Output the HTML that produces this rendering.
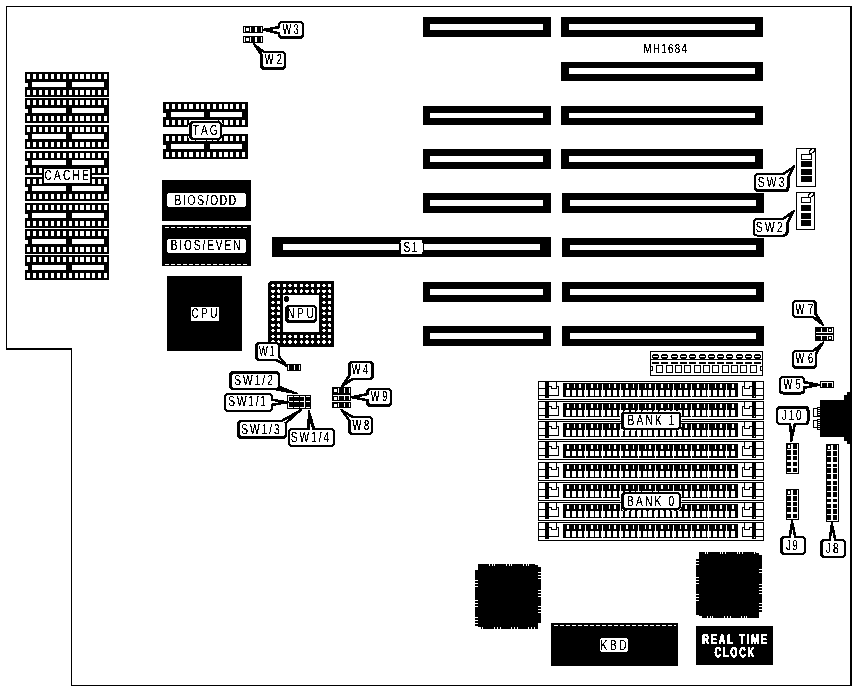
<!DOCTYPE html>
<html lang="en">
<head>
<meta charset="utf-8">
<title>MH1684 board layout</title>
<style>
html,body{margin:0;padding:0;background:#fff;}
body{width:856px;height:691px;overflow:hidden;}
svg{display:block;}
svg rect, svg path, svg circle, svg ellipse{shape-rendering:crispEdges;}
svg text{font-family:"Liberation Sans",sans-serif;text-rendering:geometricPrecision;font-kerning:none;white-space:pre;}
</style>
</head>
<body>
<svg width="856" height="691" viewBox="0 0 856 691">
<defs><filter id="th" x="-5%" y="-30%" width="110%" height="160%" color-interpolation-filters="sRGB"><feComponentTransfer><feFuncA type="discrete" tableValues="0 0 0 0 0 0 0 0 1 1 1 1 1 1 1 1 1 1 1 1"/></feComponentTransfer></filter><filter id="th2" x="-5%" y="-30%" width="110%" height="160%" color-interpolation-filters="sRGB"><feComponentTransfer><feFuncA type="discrete" tableValues="0 0 0 0 0 0 0 1 1 1 1 1 1 1 1 1 1 1 1 1"/></feComponentTransfer></filter></defs>
<rect x="0" y="0" width="856" height="691" fill="#fff"/>
<rect x="6" y="6" width="846" height="1" fill="#000"/>
<rect x="6" y="6" width="1" height="344" fill="#000"/>
<rect x="6" y="348" width="66" height="2" fill="#000"/>
<rect x="71" y="348" width="1" height="338" fill="#000"/>
<rect x="71" y="685" width="781" height="1" fill="#000"/>
<rect x="850" y="6" width="2" height="680" fill="#000"/>
<rect x="25" y="72" width="84" height="25" fill="#000"/>
<rect x="27" y="74" width="3" height="5" fill="#fff"/>
<rect x="27" y="90" width="3" height="5" fill="#fff"/>
<rect x="33" y="74" width="3" height="5" fill="#fff"/>
<rect x="33" y="90" width="3" height="5" fill="#fff"/>
<rect x="39" y="74" width="3" height="5" fill="#fff"/>
<rect x="39" y="90" width="3" height="5" fill="#fff"/>
<rect x="45" y="74" width="3" height="5" fill="#fff"/>
<rect x="45" y="90" width="3" height="5" fill="#fff"/>
<rect x="51" y="74" width="3" height="5" fill="#fff"/>
<rect x="51" y="90" width="3" height="5" fill="#fff"/>
<rect x="57" y="74" width="3" height="5" fill="#fff"/>
<rect x="57" y="90" width="3" height="5" fill="#fff"/>
<rect x="63" y="74" width="3" height="5" fill="#fff"/>
<rect x="63" y="90" width="3" height="5" fill="#fff"/>
<rect x="69" y="74" width="3" height="5" fill="#fff"/>
<rect x="69" y="90" width="3" height="5" fill="#fff"/>
<rect x="75" y="74" width="3" height="5" fill="#fff"/>
<rect x="75" y="90" width="3" height="5" fill="#fff"/>
<rect x="80" y="74" width="4" height="5" fill="#fff"/>
<rect x="80" y="90" width="4" height="5" fill="#fff"/>
<rect x="86" y="74" width="4" height="5" fill="#fff"/>
<rect x="86" y="90" width="4" height="5" fill="#fff"/>
<rect x="92" y="74" width="3" height="5" fill="#fff"/>
<rect x="92" y="90" width="3" height="5" fill="#fff"/>
<rect x="98" y="74" width="3" height="5" fill="#fff"/>
<rect x="98" y="90" width="3" height="5" fill="#fff"/>
<rect x="104" y="74" width="3" height="5" fill="#fff"/>
<rect x="104" y="90" width="3" height="5" fill="#fff"/>
<rect x="32" y="82" width="34" height="5" fill="#fff"/>
<rect x="72" y="82" width="32" height="5" fill="#fff"/>
<path d="M25,83h2l1,1v2l-1,1h-2z" fill="#fff"/>
<rect x="25" y="98" width="84" height="25" fill="#000"/>
<rect x="27" y="100" width="3" height="5" fill="#fff"/>
<rect x="27" y="116" width="3" height="5" fill="#fff"/>
<rect x="33" y="100" width="3" height="5" fill="#fff"/>
<rect x="33" y="116" width="3" height="5" fill="#fff"/>
<rect x="39" y="100" width="3" height="5" fill="#fff"/>
<rect x="39" y="116" width="3" height="5" fill="#fff"/>
<rect x="45" y="100" width="3" height="5" fill="#fff"/>
<rect x="45" y="116" width="3" height="5" fill="#fff"/>
<rect x="51" y="100" width="3" height="5" fill="#fff"/>
<rect x="51" y="116" width="3" height="5" fill="#fff"/>
<rect x="57" y="100" width="3" height="5" fill="#fff"/>
<rect x="57" y="116" width="3" height="5" fill="#fff"/>
<rect x="63" y="100" width="3" height="5" fill="#fff"/>
<rect x="63" y="116" width="3" height="5" fill="#fff"/>
<rect x="69" y="100" width="3" height="5" fill="#fff"/>
<rect x="69" y="116" width="3" height="5" fill="#fff"/>
<rect x="75" y="100" width="3" height="5" fill="#fff"/>
<rect x="75" y="116" width="3" height="5" fill="#fff"/>
<rect x="80" y="100" width="4" height="5" fill="#fff"/>
<rect x="80" y="116" width="4" height="5" fill="#fff"/>
<rect x="86" y="100" width="4" height="5" fill="#fff"/>
<rect x="86" y="116" width="4" height="5" fill="#fff"/>
<rect x="92" y="100" width="3" height="5" fill="#fff"/>
<rect x="92" y="116" width="3" height="5" fill="#fff"/>
<rect x="98" y="100" width="3" height="5" fill="#fff"/>
<rect x="98" y="116" width="3" height="5" fill="#fff"/>
<rect x="104" y="100" width="3" height="5" fill="#fff"/>
<rect x="104" y="116" width="3" height="5" fill="#fff"/>
<rect x="32" y="108" width="34" height="5" fill="#fff"/>
<rect x="72" y="108" width="32" height="5" fill="#fff"/>
<path d="M25,109h2l1,1v2l-1,1h-2z" fill="#fff"/>
<rect x="25" y="125" width="84" height="24" fill="#000"/>
<rect x="27" y="127" width="3" height="5" fill="#fff"/>
<rect x="27" y="142" width="3" height="5" fill="#fff"/>
<rect x="33" y="127" width="3" height="5" fill="#fff"/>
<rect x="33" y="142" width="3" height="5" fill="#fff"/>
<rect x="39" y="127" width="3" height="5" fill="#fff"/>
<rect x="39" y="142" width="3" height="5" fill="#fff"/>
<rect x="45" y="127" width="3" height="5" fill="#fff"/>
<rect x="45" y="142" width="3" height="5" fill="#fff"/>
<rect x="51" y="127" width="3" height="5" fill="#fff"/>
<rect x="51" y="142" width="3" height="5" fill="#fff"/>
<rect x="57" y="127" width="3" height="5" fill="#fff"/>
<rect x="57" y="142" width="3" height="5" fill="#fff"/>
<rect x="63" y="127" width="3" height="5" fill="#fff"/>
<rect x="63" y="142" width="3" height="5" fill="#fff"/>
<rect x="69" y="127" width="3" height="5" fill="#fff"/>
<rect x="69" y="142" width="3" height="5" fill="#fff"/>
<rect x="75" y="127" width="3" height="5" fill="#fff"/>
<rect x="75" y="142" width="3" height="5" fill="#fff"/>
<rect x="80" y="127" width="4" height="5" fill="#fff"/>
<rect x="80" y="142" width="4" height="5" fill="#fff"/>
<rect x="86" y="127" width="4" height="5" fill="#fff"/>
<rect x="86" y="142" width="4" height="5" fill="#fff"/>
<rect x="92" y="127" width="3" height="5" fill="#fff"/>
<rect x="92" y="142" width="3" height="5" fill="#fff"/>
<rect x="98" y="127" width="3" height="5" fill="#fff"/>
<rect x="98" y="142" width="3" height="5" fill="#fff"/>
<rect x="104" y="127" width="3" height="5" fill="#fff"/>
<rect x="104" y="142" width="3" height="5" fill="#fff"/>
<rect x="32" y="134" width="34" height="5" fill="#fff"/>
<rect x="72" y="134" width="32" height="5" fill="#fff"/>
<path d="M25,135h2l1,1v2l-1,1h-2z" fill="#fff"/>
<rect x="25" y="151" width="84" height="24" fill="#000"/>
<rect x="27" y="153" width="3" height="5" fill="#fff"/>
<rect x="27" y="168" width="3" height="5" fill="#fff"/>
<rect x="33" y="153" width="3" height="5" fill="#fff"/>
<rect x="33" y="168" width="3" height="5" fill="#fff"/>
<rect x="39" y="153" width="3" height="5" fill="#fff"/>
<rect x="39" y="168" width="3" height="5" fill="#fff"/>
<rect x="45" y="153" width="3" height="5" fill="#fff"/>
<rect x="45" y="168" width="3" height="5" fill="#fff"/>
<rect x="51" y="153" width="3" height="5" fill="#fff"/>
<rect x="51" y="168" width="3" height="5" fill="#fff"/>
<rect x="57" y="153" width="3" height="5" fill="#fff"/>
<rect x="57" y="168" width="3" height="5" fill="#fff"/>
<rect x="63" y="153" width="3" height="5" fill="#fff"/>
<rect x="63" y="168" width="3" height="5" fill="#fff"/>
<rect x="69" y="153" width="3" height="5" fill="#fff"/>
<rect x="69" y="168" width="3" height="5" fill="#fff"/>
<rect x="75" y="153" width="3" height="5" fill="#fff"/>
<rect x="75" y="168" width="3" height="5" fill="#fff"/>
<rect x="80" y="153" width="4" height="5" fill="#fff"/>
<rect x="80" y="168" width="4" height="5" fill="#fff"/>
<rect x="86" y="153" width="4" height="5" fill="#fff"/>
<rect x="86" y="168" width="4" height="5" fill="#fff"/>
<rect x="92" y="153" width="3" height="5" fill="#fff"/>
<rect x="92" y="168" width="3" height="5" fill="#fff"/>
<rect x="98" y="153" width="3" height="5" fill="#fff"/>
<rect x="98" y="168" width="3" height="5" fill="#fff"/>
<rect x="104" y="153" width="3" height="5" fill="#fff"/>
<rect x="104" y="168" width="3" height="5" fill="#fff"/>
<rect x="32" y="160" width="34" height="5" fill="#fff"/>
<rect x="72" y="160" width="32" height="5" fill="#fff"/>
<path d="M25,161h2l1,1v2l-1,1h-2z" fill="#fff"/>
<rect x="25" y="177" width="84" height="24" fill="#000"/>
<rect x="27" y="179" width="3" height="5" fill="#fff"/>
<rect x="27" y="194" width="3" height="5" fill="#fff"/>
<rect x="33" y="179" width="3" height="5" fill="#fff"/>
<rect x="33" y="194" width="3" height="5" fill="#fff"/>
<rect x="39" y="179" width="3" height="5" fill="#fff"/>
<rect x="39" y="194" width="3" height="5" fill="#fff"/>
<rect x="45" y="179" width="3" height="5" fill="#fff"/>
<rect x="45" y="194" width="3" height="5" fill="#fff"/>
<rect x="51" y="179" width="3" height="5" fill="#fff"/>
<rect x="51" y="194" width="3" height="5" fill="#fff"/>
<rect x="57" y="179" width="3" height="5" fill="#fff"/>
<rect x="57" y="194" width="3" height="5" fill="#fff"/>
<rect x="63" y="179" width="3" height="5" fill="#fff"/>
<rect x="63" y="194" width="3" height="5" fill="#fff"/>
<rect x="69" y="179" width="3" height="5" fill="#fff"/>
<rect x="69" y="194" width="3" height="5" fill="#fff"/>
<rect x="75" y="179" width="3" height="5" fill="#fff"/>
<rect x="75" y="194" width="3" height="5" fill="#fff"/>
<rect x="80" y="179" width="4" height="5" fill="#fff"/>
<rect x="80" y="194" width="4" height="5" fill="#fff"/>
<rect x="86" y="179" width="4" height="5" fill="#fff"/>
<rect x="86" y="194" width="4" height="5" fill="#fff"/>
<rect x="92" y="179" width="3" height="5" fill="#fff"/>
<rect x="92" y="194" width="3" height="5" fill="#fff"/>
<rect x="98" y="179" width="3" height="5" fill="#fff"/>
<rect x="98" y="194" width="3" height="5" fill="#fff"/>
<rect x="104" y="179" width="3" height="5" fill="#fff"/>
<rect x="104" y="194" width="3" height="5" fill="#fff"/>
<rect x="32" y="186" width="34" height="5" fill="#fff"/>
<rect x="72" y="186" width="32" height="5" fill="#fff"/>
<path d="M25,187h2l1,1v2l-1,1h-2z" fill="#fff"/>
<rect x="25" y="203" width="84" height="25" fill="#000"/>
<rect x="27" y="205" width="3" height="5" fill="#fff"/>
<rect x="27" y="221" width="3" height="5" fill="#fff"/>
<rect x="33" y="205" width="3" height="5" fill="#fff"/>
<rect x="33" y="221" width="3" height="5" fill="#fff"/>
<rect x="39" y="205" width="3" height="5" fill="#fff"/>
<rect x="39" y="221" width="3" height="5" fill="#fff"/>
<rect x="45" y="205" width="3" height="5" fill="#fff"/>
<rect x="45" y="221" width="3" height="5" fill="#fff"/>
<rect x="51" y="205" width="3" height="5" fill="#fff"/>
<rect x="51" y="221" width="3" height="5" fill="#fff"/>
<rect x="57" y="205" width="3" height="5" fill="#fff"/>
<rect x="57" y="221" width="3" height="5" fill="#fff"/>
<rect x="63" y="205" width="3" height="5" fill="#fff"/>
<rect x="63" y="221" width="3" height="5" fill="#fff"/>
<rect x="69" y="205" width="3" height="5" fill="#fff"/>
<rect x="69" y="221" width="3" height="5" fill="#fff"/>
<rect x="75" y="205" width="3" height="5" fill="#fff"/>
<rect x="75" y="221" width="3" height="5" fill="#fff"/>
<rect x="80" y="205" width="4" height="5" fill="#fff"/>
<rect x="80" y="221" width="4" height="5" fill="#fff"/>
<rect x="86" y="205" width="4" height="5" fill="#fff"/>
<rect x="86" y="221" width="4" height="5" fill="#fff"/>
<rect x="92" y="205" width="3" height="5" fill="#fff"/>
<rect x="92" y="221" width="3" height="5" fill="#fff"/>
<rect x="98" y="205" width="3" height="5" fill="#fff"/>
<rect x="98" y="221" width="3" height="5" fill="#fff"/>
<rect x="104" y="205" width="3" height="5" fill="#fff"/>
<rect x="104" y="221" width="3" height="5" fill="#fff"/>
<rect x="32" y="213" width="34" height="5" fill="#fff"/>
<rect x="72" y="213" width="32" height="5" fill="#fff"/>
<path d="M25,214h2l1,1v2l-1,1h-2z" fill="#fff"/>
<rect x="25" y="229" width="84" height="25" fill="#000"/>
<rect x="27" y="231" width="3" height="5" fill="#fff"/>
<rect x="27" y="247" width="3" height="5" fill="#fff"/>
<rect x="33" y="231" width="3" height="5" fill="#fff"/>
<rect x="33" y="247" width="3" height="5" fill="#fff"/>
<rect x="39" y="231" width="3" height="5" fill="#fff"/>
<rect x="39" y="247" width="3" height="5" fill="#fff"/>
<rect x="45" y="231" width="3" height="5" fill="#fff"/>
<rect x="45" y="247" width="3" height="5" fill="#fff"/>
<rect x="51" y="231" width="3" height="5" fill="#fff"/>
<rect x="51" y="247" width="3" height="5" fill="#fff"/>
<rect x="57" y="231" width="3" height="5" fill="#fff"/>
<rect x="57" y="247" width="3" height="5" fill="#fff"/>
<rect x="63" y="231" width="3" height="5" fill="#fff"/>
<rect x="63" y="247" width="3" height="5" fill="#fff"/>
<rect x="69" y="231" width="3" height="5" fill="#fff"/>
<rect x="69" y="247" width="3" height="5" fill="#fff"/>
<rect x="75" y="231" width="3" height="5" fill="#fff"/>
<rect x="75" y="247" width="3" height="5" fill="#fff"/>
<rect x="80" y="231" width="4" height="5" fill="#fff"/>
<rect x="80" y="247" width="4" height="5" fill="#fff"/>
<rect x="86" y="231" width="4" height="5" fill="#fff"/>
<rect x="86" y="247" width="4" height="5" fill="#fff"/>
<rect x="92" y="231" width="3" height="5" fill="#fff"/>
<rect x="92" y="247" width="3" height="5" fill="#fff"/>
<rect x="98" y="231" width="3" height="5" fill="#fff"/>
<rect x="98" y="247" width="3" height="5" fill="#fff"/>
<rect x="104" y="231" width="3" height="5" fill="#fff"/>
<rect x="104" y="247" width="3" height="5" fill="#fff"/>
<rect x="32" y="239" width="34" height="5" fill="#fff"/>
<rect x="72" y="239" width="32" height="5" fill="#fff"/>
<path d="M25,240h2l1,1v2l-1,1h-2z" fill="#fff"/>
<rect x="25" y="255" width="84" height="25" fill="#000"/>
<rect x="27" y="257" width="3" height="5" fill="#fff"/>
<rect x="27" y="273" width="3" height="5" fill="#fff"/>
<rect x="33" y="257" width="3" height="5" fill="#fff"/>
<rect x="33" y="273" width="3" height="5" fill="#fff"/>
<rect x="39" y="257" width="3" height="5" fill="#fff"/>
<rect x="39" y="273" width="3" height="5" fill="#fff"/>
<rect x="45" y="257" width="3" height="5" fill="#fff"/>
<rect x="45" y="273" width="3" height="5" fill="#fff"/>
<rect x="51" y="257" width="3" height="5" fill="#fff"/>
<rect x="51" y="273" width="3" height="5" fill="#fff"/>
<rect x="57" y="257" width="3" height="5" fill="#fff"/>
<rect x="57" y="273" width="3" height="5" fill="#fff"/>
<rect x="63" y="257" width="3" height="5" fill="#fff"/>
<rect x="63" y="273" width="3" height="5" fill="#fff"/>
<rect x="69" y="257" width="3" height="5" fill="#fff"/>
<rect x="69" y="273" width="3" height="5" fill="#fff"/>
<rect x="75" y="257" width="3" height="5" fill="#fff"/>
<rect x="75" y="273" width="3" height="5" fill="#fff"/>
<rect x="80" y="257" width="4" height="5" fill="#fff"/>
<rect x="80" y="273" width="4" height="5" fill="#fff"/>
<rect x="86" y="257" width="4" height="5" fill="#fff"/>
<rect x="86" y="273" width="4" height="5" fill="#fff"/>
<rect x="92" y="257" width="3" height="5" fill="#fff"/>
<rect x="92" y="273" width="3" height="5" fill="#fff"/>
<rect x="98" y="257" width="3" height="5" fill="#fff"/>
<rect x="98" y="273" width="3" height="5" fill="#fff"/>
<rect x="104" y="257" width="3" height="5" fill="#fff"/>
<rect x="104" y="273" width="3" height="5" fill="#fff"/>
<rect x="32" y="265" width="34" height="5" fill="#fff"/>
<rect x="72" y="265" width="32" height="5" fill="#fff"/>
<path d="M25,266h2l1,1v2l-1,1h-2z" fill="#fff"/>
<rect x="163" y="102" width="85" height="25" fill="#000"/>
<rect x="166" y="104" width="3" height="5" fill="#fff"/>
<rect x="166" y="120" width="3" height="5" fill="#fff"/>
<rect x="172" y="104" width="3" height="5" fill="#fff"/>
<rect x="172" y="120" width="3" height="5" fill="#fff"/>
<rect x="178" y="104" width="3" height="5" fill="#fff"/>
<rect x="178" y="120" width="3" height="5" fill="#fff"/>
<rect x="184" y="104" width="3" height="5" fill="#fff"/>
<rect x="184" y="120" width="3" height="5" fill="#fff"/>
<rect x="189" y="104" width="4" height="5" fill="#fff"/>
<rect x="189" y="120" width="4" height="5" fill="#fff"/>
<rect x="196" y="104" width="3" height="5" fill="#fff"/>
<rect x="196" y="120" width="3" height="5" fill="#fff"/>
<rect x="201" y="104" width="3" height="5" fill="#fff"/>
<rect x="201" y="120" width="3" height="5" fill="#fff"/>
<rect x="207" y="104" width="3" height="5" fill="#fff"/>
<rect x="207" y="120" width="3" height="5" fill="#fff"/>
<rect x="213" y="104" width="3" height="5" fill="#fff"/>
<rect x="213" y="120" width="3" height="5" fill="#fff"/>
<rect x="219" y="104" width="3" height="5" fill="#fff"/>
<rect x="219" y="120" width="3" height="5" fill="#fff"/>
<rect x="224" y="104" width="4" height="5" fill="#fff"/>
<rect x="224" y="120" width="4" height="5" fill="#fff"/>
<rect x="230" y="104" width="3" height="5" fill="#fff"/>
<rect x="230" y="120" width="3" height="5" fill="#fff"/>
<rect x="236" y="104" width="3" height="5" fill="#fff"/>
<rect x="236" y="120" width="3" height="5" fill="#fff"/>
<rect x="242" y="104" width="3" height="5" fill="#fff"/>
<rect x="242" y="120" width="3" height="5" fill="#fff"/>
<rect x="171" y="112" width="33" height="5" fill="#fff"/>
<rect x="210" y="112" width="32" height="5" fill="#fff"/>
<path d="M163,113h2l1,1v2l-1,1h-2z" fill="#fff"/>
<rect x="163" y="134" width="85" height="25" fill="#000"/>
<rect x="166" y="136" width="3" height="5" fill="#fff"/>
<rect x="166" y="152" width="3" height="5" fill="#fff"/>
<rect x="172" y="136" width="3" height="5" fill="#fff"/>
<rect x="172" y="152" width="3" height="5" fill="#fff"/>
<rect x="178" y="136" width="3" height="5" fill="#fff"/>
<rect x="178" y="152" width="3" height="5" fill="#fff"/>
<rect x="184" y="136" width="3" height="5" fill="#fff"/>
<rect x="184" y="152" width="3" height="5" fill="#fff"/>
<rect x="189" y="136" width="4" height="5" fill="#fff"/>
<rect x="189" y="152" width="4" height="5" fill="#fff"/>
<rect x="196" y="136" width="3" height="5" fill="#fff"/>
<rect x="196" y="152" width="3" height="5" fill="#fff"/>
<rect x="201" y="136" width="3" height="5" fill="#fff"/>
<rect x="201" y="152" width="3" height="5" fill="#fff"/>
<rect x="207" y="136" width="3" height="5" fill="#fff"/>
<rect x="207" y="152" width="3" height="5" fill="#fff"/>
<rect x="213" y="136" width="3" height="5" fill="#fff"/>
<rect x="213" y="152" width="3" height="5" fill="#fff"/>
<rect x="219" y="136" width="3" height="5" fill="#fff"/>
<rect x="219" y="152" width="3" height="5" fill="#fff"/>
<rect x="224" y="136" width="4" height="5" fill="#fff"/>
<rect x="224" y="152" width="4" height="5" fill="#fff"/>
<rect x="230" y="136" width="3" height="5" fill="#fff"/>
<rect x="230" y="152" width="3" height="5" fill="#fff"/>
<rect x="236" y="136" width="3" height="5" fill="#fff"/>
<rect x="236" y="152" width="3" height="5" fill="#fff"/>
<rect x="242" y="136" width="3" height="5" fill="#fff"/>
<rect x="242" y="152" width="3" height="5" fill="#fff"/>
<rect x="171" y="144" width="33" height="5" fill="#fff"/>
<rect x="210" y="144" width="32" height="5" fill="#fff"/>
<path d="M163,145h2l1,1v2l-1,1h-2z" fill="#fff"/>
<rect x="42" y="167" width="50" height="18" fill="#000"/>
<rect x="44" y="169" width="46" height="14" fill="#fff"/>
<text filter="url(#th)" transform="translate(44.58,180) scale(0.7,1)" font-size="14.5" letter-spacing="3.11" fill="#000">CACHE</text>
<path d="M193,120.5H218A4.5,4.5 0 0 1 222.5,125V136A4.5,4.5 0 0 1 218,140.5H193A4.5,4.5 0 0 1 188.5,136V125A4.5,4.5 0 0 1 193,120.5Z" fill="none" stroke="#fff" stroke-width="1" stroke-dasharray="3 2.6"/>
<path d="M193,121H218A4,4 0 0 1 222,125V136A4,4 0 0 1 218,140H193A4,4 0 0 1 189,136V125A4,4 0 0 1 193,121Z" fill="#000"/>
<path d="M194.3,123H217.7A2.3,2.3 0 0 1 220,125.3V135.7A2.3,2.3 0 0 1 217.7,138H194.3A2.3,2.3 0 0 1 192,135.7V125.3A2.3,2.3 0 0 1 194.3,123Z" fill="#fff"/>
<text filter="url(#th)" transform="translate(192.77,135) scale(0.7,1)" font-size="14.5" letter-spacing="2.80" fill="#000">TAG</text>
<rect x="162" y="180" width="89" height="41" fill="#000"/>
<path d="M170,193H243A3,3 0 0 1 246,196V204A3,3 0 0 1 243,207H170A3,3 0 0 1 167,204V196A3,3 0 0 1 170,193Z" fill="#fff"/>
<text filter="url(#th)" transform="translate(174.57,205) scale(0.7,1)" font-size="14.5" letter-spacing="2.45" fill="#000">BIOS/ODD</text>
<rect x="162" y="225" width="89" height="41" fill="#000"/>
<path d="M165,227.5H249M165,264.5H249" stroke="#fff" stroke-width="1" stroke-dasharray="3.5 2.5" fill="none"/>
<path d="M170,239H243A3,3 0 0 1 246,242V250A3,3 0 0 1 243,253H170A3,3 0 0 1 167,250V242A3,3 0 0 1 170,239Z" fill="#fff"/>
<text filter="url(#th)" transform="translate(170.67,250) scale(0.7,1)" font-size="14.5" letter-spacing="2.70" fill="#000">BIOS/EVEN</text>
<rect x="167" y="276" width="75" height="75" fill="#000"/>
<rect x="191" y="307" width="28" height="14" fill="#fff"/>
<text filter="url(#th)" transform="translate(191.48,318) scale(0.7,1)" font-size="14.5" letter-spacing="3.19" fill="#000">CPU</text>
<path d="M270,281H334V347H268V283Z" fill="#000"/>
<circle cx="273.0" cy="285.4" r="1.75" fill="#fff"/>
<circle cx="273.0" cy="291.1" r="1.75" fill="#fff"/>
<circle cx="273.0" cy="296.7" r="1.75" fill="#fff"/>
<circle cx="273.0" cy="302.4" r="1.75" fill="#fff"/>
<circle cx="273.0" cy="308.1" r="1.75" fill="#fff"/>
<circle cx="273.0" cy="313.7" r="1.75" fill="#fff"/>
<circle cx="273.0" cy="319.4" r="1.75" fill="#fff"/>
<circle cx="273.0" cy="325.1" r="1.75" fill="#fff"/>
<circle cx="273.0" cy="330.7" r="1.75" fill="#fff"/>
<circle cx="273.0" cy="336.4" r="1.75" fill="#fff"/>
<circle cx="273.0" cy="342.0" r="1.75" fill="#fff"/>
<circle cx="278.7" cy="285.4" r="1.75" fill="#fff"/>
<circle cx="278.7" cy="291.1" r="1.75" fill="#fff"/>
<circle cx="278.7" cy="296.7" r="1.75" fill="#fff"/>
<circle cx="278.7" cy="302.4" r="1.75" fill="#fff"/>
<circle cx="278.7" cy="308.1" r="1.75" fill="#fff"/>
<circle cx="278.7" cy="313.7" r="1.75" fill="#fff"/>
<circle cx="278.7" cy="319.4" r="1.75" fill="#fff"/>
<circle cx="278.7" cy="325.1" r="1.75" fill="#fff"/>
<circle cx="278.7" cy="330.7" r="1.75" fill="#fff"/>
<circle cx="278.7" cy="336.4" r="1.75" fill="#fff"/>
<circle cx="278.7" cy="342.0" r="1.75" fill="#fff"/>
<circle cx="284.3" cy="285.4" r="1.75" fill="#fff"/>
<circle cx="284.3" cy="291.1" r="1.75" fill="#fff"/>
<circle cx="284.3" cy="336.4" r="1.75" fill="#fff"/>
<circle cx="284.3" cy="342.0" r="1.75" fill="#fff"/>
<circle cx="290.0" cy="285.4" r="1.75" fill="#fff"/>
<circle cx="290.0" cy="291.1" r="1.75" fill="#fff"/>
<circle cx="290.0" cy="336.4" r="1.75" fill="#fff"/>
<circle cx="290.0" cy="342.0" r="1.75" fill="#fff"/>
<circle cx="295.7" cy="285.4" r="1.75" fill="#fff"/>
<circle cx="295.7" cy="291.1" r="1.75" fill="#fff"/>
<circle cx="295.7" cy="336.4" r="1.75" fill="#fff"/>
<circle cx="295.7" cy="342.0" r="1.75" fill="#fff"/>
<circle cx="301.3" cy="285.4" r="1.75" fill="#fff"/>
<circle cx="301.3" cy="291.1" r="1.75" fill="#fff"/>
<circle cx="301.3" cy="336.4" r="1.75" fill="#fff"/>
<circle cx="301.3" cy="342.0" r="1.75" fill="#fff"/>
<circle cx="307.0" cy="285.4" r="1.75" fill="#fff"/>
<circle cx="307.0" cy="291.1" r="1.75" fill="#fff"/>
<circle cx="307.0" cy="336.4" r="1.75" fill="#fff"/>
<circle cx="307.0" cy="342.0" r="1.75" fill="#fff"/>
<circle cx="312.7" cy="285.4" r="1.75" fill="#fff"/>
<circle cx="312.7" cy="291.1" r="1.75" fill="#fff"/>
<circle cx="312.7" cy="336.4" r="1.75" fill="#fff"/>
<circle cx="312.7" cy="342.0" r="1.75" fill="#fff"/>
<circle cx="318.3" cy="285.4" r="1.75" fill="#fff"/>
<circle cx="318.3" cy="291.1" r="1.75" fill="#fff"/>
<circle cx="318.3" cy="336.4" r="1.75" fill="#fff"/>
<circle cx="318.3" cy="342.0" r="1.75" fill="#fff"/>
<circle cx="324.0" cy="285.4" r="1.75" fill="#fff"/>
<circle cx="324.0" cy="291.1" r="1.75" fill="#fff"/>
<circle cx="324.0" cy="296.7" r="1.75" fill="#fff"/>
<circle cx="324.0" cy="302.4" r="1.75" fill="#fff"/>
<circle cx="324.0" cy="308.1" r="1.75" fill="#fff"/>
<circle cx="324.0" cy="313.7" r="1.75" fill="#fff"/>
<circle cx="324.0" cy="319.4" r="1.75" fill="#fff"/>
<circle cx="324.0" cy="325.1" r="1.75" fill="#fff"/>
<circle cx="324.0" cy="330.7" r="1.75" fill="#fff"/>
<circle cx="324.0" cy="336.4" r="1.75" fill="#fff"/>
<circle cx="324.0" cy="342.0" r="1.75" fill="#fff"/>
<circle cx="329.6" cy="285.4" r="1.75" fill="#fff"/>
<circle cx="329.6" cy="291.1" r="1.75" fill="#fff"/>
<circle cx="329.6" cy="296.7" r="1.75" fill="#fff"/>
<circle cx="329.6" cy="302.4" r="1.75" fill="#fff"/>
<circle cx="329.6" cy="308.1" r="1.75" fill="#fff"/>
<circle cx="329.6" cy="313.7" r="1.75" fill="#fff"/>
<circle cx="329.6" cy="319.4" r="1.75" fill="#fff"/>
<circle cx="329.6" cy="325.1" r="1.75" fill="#fff"/>
<circle cx="329.6" cy="330.7" r="1.75" fill="#fff"/>
<circle cx="329.6" cy="336.4" r="1.75" fill="#fff"/>
<circle cx="329.6" cy="342.0" r="1.75" fill="#fff"/>
<rect x="283" y="295" width="36" height="37" fill="#fff"/>
<rect x="284" y="297" width="5" height="4" fill="#000"/>
<rect x="285" y="296" width="3" height="6" fill="#000"/>
<path d="M289,305H313A4,4 0 0 1 317,309V319A4,4 0 0 1 313,323H289A4,4 0 0 1 285,319V309A4,4 0 0 1 289,305Z" fill="#000"/>
<path d="M290.3,307H312.7A2.3,2.3 0 0 1 315,309.3V317.7A2.3,2.3 0 0 1 312.7,320H290.3A2.3,2.3 0 0 1 288,317.7V309.3A2.3,2.3 0 0 1 290.3,307Z" fill="#fff"/>
<text filter="url(#th)" transform="translate(287.17,318) scale(0.7,1)" font-size="14.5" letter-spacing="3.70" fill="#000">NPU</text>
<rect x="561" y="17" width="202" height="20" fill="#000"/>
<rect x="569" y="24" width="186" height="6" fill="#fff"/>
<rect x="423" y="17" width="128" height="20" fill="#000"/>
<rect x="430" y="24" width="113" height="6" fill="#fff"/>
<rect x="561" y="62" width="202" height="19" fill="#000"/>
<rect x="569" y="68" width="186" height="6" fill="#fff"/>
<rect x="561" y="106" width="202" height="19" fill="#000"/>
<rect x="569" y="113" width="186" height="5" fill="#fff"/>
<rect x="423" y="106" width="128" height="19" fill="#000"/>
<rect x="430" y="113" width="113" height="5" fill="#fff"/>
<rect x="561" y="149" width="202" height="20" fill="#000"/>
<rect x="569" y="156" width="186" height="6" fill="#fff"/>
<rect x="423" y="149" width="128" height="20" fill="#000"/>
<rect x="430" y="156" width="113" height="6" fill="#fff"/>
<rect x="562" y="193" width="202" height="20" fill="#000"/>
<rect x="570" y="200" width="186" height="6" fill="#fff"/>
<rect x="423" y="193" width="128" height="20" fill="#000"/>
<rect x="430" y="200" width="113" height="6" fill="#fff"/>
<rect x="562" y="238" width="202" height="19" fill="#000"/>
<rect x="570" y="245" width="186" height="5" fill="#fff"/>
<rect x="272" y="237" width="279" height="20" fill="#000"/>
<rect x="283" y="244" width="257" height="6" fill="#fff"/>
<rect x="562" y="282" width="202" height="20" fill="#000"/>
<rect x="570" y="289" width="186" height="6" fill="#fff"/>
<rect x="423" y="282" width="128" height="20" fill="#000"/>
<rect x="430" y="289" width="113" height="6" fill="#fff"/>
<rect x="562" y="326" width="202" height="20" fill="#000"/>
<rect x="570" y="333" width="186" height="6" fill="#fff"/>
<rect x="423" y="326" width="128" height="20" fill="#000"/>
<rect x="430" y="333" width="113" height="6" fill="#fff"/>
<rect x="399" y="239" width="25" height="16" fill="#000"/>
<path d="M403,240H420A2.5,2.5 0 0 1 422.5,242.5V251.5A2.5,2.5 0 0 1 420,254H403A2.5,2.5 0 0 1 400.5,251.5V242.5A2.5,2.5 0 0 1 403,240Z" fill="#fff"/>
<text filter="url(#th)" transform="translate(403.54,252) scale(0.7,1)" font-size="14.5" letter-spacing="1.63" fill="#000">S1</text>
<text filter="url(#th)" transform="translate(643.51,53) scale(0.74,1)" font-size="13" letter-spacing="1.89" fill="#000">MH1684</text>
<rect x="243" y="26" width="20" height="7" fill="#000"/>
<rect x="244" y="27" width="1" height="5" fill="#fff"/>
<rect x="246" y="28" width="3" height="3" fill="#fff"/>
<rect x="250" y="27" width="1" height="5" fill="#fff"/>
<rect x="255" y="27" width="2" height="5" fill="#fff"/>
<rect x="261" y="27" width="1" height="5" fill="#fff"/>
<rect x="243" y="36" width="20" height="7" fill="#000"/>
<rect x="244" y="37" width="1" height="5" fill="#fff"/>
<rect x="246" y="38" width="3" height="3" fill="#fff"/>
<rect x="250" y="37" width="1" height="5" fill="#fff"/>
<rect x="255" y="37" width="2" height="5" fill="#fff"/>
<rect x="261" y="37" width="1" height="5" fill="#fff"/>
<path d="M278.00,27.00L263.4,29.7L278.00,33.50Z" fill="#000" stroke="#000" stroke-width="2" stroke-linejoin="round"/>
<path d="M282,21H300A4,4 0 0 1 304,25V35A4,4 0 0 1 300,39H282A4,4 0 0 1 278,35V25A4,4 0 0 1 282,21Z" fill="#000"/>
<path d="M282.3,23H299.7A2.3,2.3 0 0 1 302,25.3V33.7A2.3,2.3 0 0 1 299.7,36H282.3A2.3,2.3 0 0 1 280,33.7V25.3A2.3,2.3 0 0 1 282.3,23Z" fill="#fff"/>
<clipPath id="c471"><path d="M281.93,26.27L263.4,29.7L281.87,34.51Z"/></clipPath>
<path d="M283.21,27.66L270.77,29.96L283.24,33.21Z" fill="#fff" clip-path="url(#c471)"/>
<text filter="url(#th)" transform="translate(282.56,33.7) scale(0.64,1)" font-size="14.5" letter-spacing="3.48" fill="#000">W3</text>
<path d="M260.40,53.70L253.7,44L263.60,51.30Z" fill="#000" stroke="#000" stroke-width="2" stroke-linejoin="round"/>
<path d="M264,51H282A4,4 0 0 1 286,55V66A4,4 0 0 1 282,70H264A4,4 0 0 1 260,66V55A4,4 0 0 1 264,51Z" fill="#000"/>
<path d="M265.3,53H281.7A2.3,2.3 0 0 1 284,55.3V64.7A2.3,2.3 0 0 1 281.7,67H265.3A2.3,2.3 0 0 1 263,64.7V55.3A2.3,2.3 0 0 1 265.3,53Z" fill="#fff"/>
<clipPath id="c477"><path d="M262.67,56.99L253.7,44L266.82,53.67Z"/></clipPath>
<path d="M264.56,56.90L260.46,50.97L266.67,55.56Z" fill="#fff" clip-path="url(#c477)"/>
<text filter="url(#th)" transform="translate(264.66,64) scale(0.64,1)" font-size="14.5" letter-spacing="5.29" fill="#000">W2</text>
<rect x="287" y="364" width="14" height="7" fill="#000"/>
<rect x="288" y="365" width="1" height="5" fill="#fff"/>
<rect x="294" y="365" width="1" height="5" fill="#fff"/>
<rect x="299" y="365" width="1" height="5" fill="#fff"/>
<path d="M276.81,360.61L287.5,366.5L279.69,356.89Z" fill="#000" stroke="#000" stroke-width="2" stroke-linejoin="round"/>
<path d="M259,342H276A4,4 0 0 1 280,346V357A4,4 0 0 1 276,361H259A4,4 0 0 1 255,357V346A4,4 0 0 1 259,342Z" fill="#000"/>
<path d="M260.3,344H275.7A2.3,2.3 0 0 1 278,346.3V356.7A2.3,2.3 0 0 1 275.7,359H260.3A2.3,2.3 0 0 1 258,356.7V346.3A2.3,2.3 0 0 1 260.3,344Z" fill="#fff"/>
<clipPath id="c487"><path d="M273.30,358.67L287.5,366.5L277.17,353.79Z"/></clipPath>
<path d="M273.20,356.79L281.07,361.13L275.30,354.02Z" fill="#fff" clip-path="url(#c487)"/>
<text filter="url(#th)" transform="translate(259.06,356) scale(0.64,1)" font-size="14.5" letter-spacing="2.77" fill="#000">W1</text>
<rect x="287" y="395" width="24" height="14" fill="#000"/>
<rect x="288" y="396" width="1" height="12" fill="#fff"/>
<rect x="304" y="396" width="1" height="12" fill="#fff"/>
<rect x="289" y="396" width="4" height="1" fill="#fff"/>
<rect x="294" y="396" width="5" height="1" fill="#fff"/>
<rect x="300" y="396" width="4" height="1" fill="#fff"/>
<rect x="306" y="396" width="4" height="1" fill="#fff"/>
<rect x="289" y="401" width="4" height="1" fill="#fff"/>
<rect x="294" y="401" width="5" height="1" fill="#fff"/>
<rect x="300" y="401" width="4" height="1" fill="#fff"/>
<rect x="306" y="401" width="4" height="1" fill="#fff"/>
<rect x="289" y="407" width="4" height="1" fill="#fff"/>
<rect x="294" y="407" width="5" height="1" fill="#fff"/>
<rect x="300" y="407" width="4" height="1" fill="#fff"/>
<rect x="306" y="407" width="4" height="1" fill="#fff"/>
<path d="M276.85,389.65L296.8,393.5L279.65,386.85Z" fill="#000" stroke="#000" stroke-width="2" stroke-linejoin="round"/>
<path d="M233,371H276A4,4 0 0 1 280,375V386A4,4 0 0 1 276,390H233A4,4 0 0 1 229,386V375A4,4 0 0 1 233,371Z" fill="#000"/>
<path d="M234.3,374H275.7A2.3,2.3 0 0 1 278,376.3V385.7A2.3,2.3 0 0 1 275.7,388H234.3A2.3,2.3 0 0 1 232,385.7V376.3A2.3,2.3 0 0 1 234.3,374Z" fill="#fff"/>
<clipPath id="c508"><path d="M272.93,388.89L296.8,393.5L275.92,385.41Z"/></clipPath>
<path d="M272.25,387.13L279.58,388.54L274.41,386.54Z" fill="#fff" clip-path="url(#c508)"/>
<text filter="url(#th)" transform="translate(234.24,385) scale(0.7,1)" font-size="14.5" letter-spacing="2.90" fill="#000">SW1/2</text>
<path d="M273.00,399.50L288,402.3L273.00,405.00Z" fill="#000" stroke="#000" stroke-width="2" stroke-linejoin="round"/>
<path d="M228,393H269A4,4 0 0 1 273,397V408A4,4 0 0 1 269,412H228A4,4 0 0 1 224,408V397A4,4 0 0 1 228,393Z" fill="#000"/>
<path d="M228.3,395H268.7A2.3,2.3 0 0 1 271,397.3V407.7A2.3,2.3 0 0 1 268.7,410H228.3A2.3,2.3 0 0 1 226,407.7V397.3A2.3,2.3 0 0 1 228.3,395Z" fill="#fff"/>
<clipPath id="c514"><path d="M269.07,398.77L288,402.3L269.06,405.71Z"/></clipPath>
<path d="M267.79,400.16L279.13,402.27L267.80,404.31Z" fill="#fff" clip-path="url(#c514)"/>
<text filter="url(#th)" transform="translate(228.34,406) scale(0.7,1)" font-size="14.5" letter-spacing="2.53" fill="#000">SW1/1</text>
<path d="M282.43,420.26L301.4,409.5L286.57,422.74Z" fill="#000" stroke="#000" stroke-width="2" stroke-linejoin="round"/>
<path d="M241,420H283A4,4 0 0 1 287,424V435A4,4 0 0 1 283,439H241A4,4 0 0 1 237,435V424A4,4 0 0 1 241,420Z" fill="#000"/>
<path d="M242.3,422H282.7A2.3,2.3 0 0 1 285,424.3V433.7A2.3,2.3 0 0 1 282.7,436H242.3A2.3,2.3 0 0 1 240,433.7V424.3A2.3,2.3 0 0 1 242.3,422Z" fill="#fff"/>
<clipPath id="c520"><path d="M278.95,422.23L301.4,409.5L283.59,425.41Z"/></clipPath>
<path d="M278.87,424.12L289.18,418.27L281.78,424.88Z" fill="#fff" clip-path="url(#c520)"/>
<text filter="url(#th)" transform="translate(241.34,433.6) scale(0.7,1)" font-size="14.5" letter-spacing="2.84" fill="#000">SW1/3</text>
<path d="M308.00,428.00L309,411L314.00,428.00Z" fill="#000" stroke="#000" stroke-width="2" stroke-linejoin="round"/>
<path d="M292,428H331A4,4 0 0 1 335,432V443A4,4 0 0 1 331,447H292A4,4 0 0 1 288,443V432A4,4 0 0 1 292,428Z" fill="#000"/>
<path d="M292.3,430H330.7A2.3,2.3 0 0 1 333,432.3V442.7A2.3,2.3 0 0 1 330.7,445H292.3A2.3,2.3 0 0 1 290,442.7V432.3A2.3,2.3 0 0 1 292.3,430Z" fill="#fff"/>
<clipPath id="c526"><path d="M307.77,431.99L309,411L315.13,431.84Z"/></clipPath>
<path d="M309.90,433.12L310.45,423.74L313.30,433.42Z" fill="#fff" clip-path="url(#c526)"/>
<text filter="url(#th)" transform="translate(290.84,442.3) scale(0.7,1)" font-size="14.5" letter-spacing="2.86" fill="#000">SW1/4</text>
<rect x="332" y="387" width="19" height="14" fill="#000"/>
<rect x="332" y="402" width="19" height="6" fill="#000"/>
<rect x="333" y="395" width="17" height="1" fill="#fff"/>
<rect x="334" y="389" width="3" height="3" fill="#fff"/>
<rect x="338" y="388" width="1" height="5" fill="#fff"/>
<rect x="344" y="388" width="1" height="5" fill="#fff"/>
<rect x="349" y="388" width="1" height="5" fill="#fff"/>
<rect x="334" y="397" width="3" height="3" fill="#fff"/>
<rect x="338" y="396" width="1" height="4" fill="#fff"/>
<rect x="344" y="396" width="1" height="4" fill="#fff"/>
<rect x="349" y="396" width="1" height="4" fill="#fff"/>
<rect x="334" y="404" width="3" height="3" fill="#fff"/>
<rect x="338" y="403" width="1" height="4" fill="#fff"/>
<rect x="344" y="403" width="1" height="4" fill="#fff"/>
<rect x="349" y="403" width="1" height="4" fill="#fff"/>
<path d="M348.37,376.33L341.5,386.7L352.13,379.67Z" fill="#000" stroke="#000" stroke-width="2" stroke-linejoin="round"/>
<path d="M352,361H370A4,4 0 0 1 374,365V376A4,4 0 0 1 370,380H352A4,4 0 0 1 348,376V365A4,4 0 0 1 352,361Z" fill="#000"/>
<path d="M353.3,363H368.7A2.3,2.3 0 0 1 371,365.3V375.7A2.3,2.3 0 0 1 368.7,378H353.3A2.3,2.3 0 0 1 351,375.7V365.3A2.3,2.3 0 0 1 353.3,363Z" fill="#fff"/>
<clipPath id="c547"><path d="M350.58,373.00L341.5,386.7L355.46,377.46Z"/></clipPath>
<path d="M352.47,373.05L347.19,381.02L355.41,375.57Z" fill="#fff" clip-path="url(#c547)"/>
<text filter="url(#th)" transform="translate(351.76,374) scale(0.64,1)" font-size="14.5" letter-spacing="4.05" fill="#000">W4</text>
<path d="M366.00,394.00L351,397.3L366.00,400.30Z" fill="#000" stroke="#000" stroke-width="2" stroke-linejoin="round"/>
<path d="M370,388H388A4,4 0 0 1 392,392V403A4,4 0 0 1 388,407H370A4,4 0 0 1 366,403V392A4,4 0 0 1 370,388Z" fill="#000"/>
<path d="M371.3,390H387.7A2.3,2.3 0 0 1 390,392.3V401.7A2.3,2.3 0 0 1 387.7,404H371.3A2.3,2.3 0 0 1 369,401.7V392.3A2.3,2.3 0 0 1 371.3,390Z" fill="#fff"/>
<clipPath id="c553"><path d="M369.91,393.14L351,397.3L369.92,401.08Z"/></clipPath>
<path d="M371.23,394.49L358.79,397.23L371.22,399.71Z" fill="#fff" clip-path="url(#c553)"/>
<text filter="url(#th)" transform="translate(370.66,400.5) scale(0.64,1)" font-size="14.5" letter-spacing="4.47" fill="#000">W9</text>
<path d="M348.37,419.67L341.4,409.8L352.13,416.33Z" fill="#000" stroke="#000" stroke-width="2" stroke-linejoin="round"/>
<path d="M352,416H369A4,4 0 0 1 373,420V431A4,4 0 0 1 369,435H352A4,4 0 0 1 348,431V420A4,4 0 0 1 352,416Z" fill="#000"/>
<path d="M353.3,418H368.7A2.3,2.3 0 0 1 371,420.3V430.7A2.3,2.3 0 0 1 368.7,433H353.3A2.3,2.3 0 0 1 351,430.7V420.3A2.3,2.3 0 0 1 353.3,418Z" fill="#fff"/>
<clipPath id="c559"><path d="M350.68,422.93L341.4,409.8L355.54,418.41Z"/></clipPath>
<path d="M352.57,422.83L347.16,415.18L355.56,420.30Z" fill="#fff" clip-path="url(#c559)"/>
<text filter="url(#th2)" transform="translate(352.51,429.5) scale(0.64,1)" font-size="14.5" letter-spacing="4.26" fill="#000">W8</text>
<rect x="796" y="148" width="20" height="39" fill="#000"/>
<rect x="797" y="149" width="18" height="37" fill="#fff"/>
<rect x="801" y="154" width="11" height="6" fill="#000"/>
<rect x="802" y="155" width="9" height="4" fill="#fff"/>
<rect x="801" y="161" width="11" height="6" fill="#000"/>
<rect x="801" y="169" width="11" height="6" fill="#000"/>
<rect x="801" y="176" width="11" height="6" fill="#000"/>
<ellipse cx="812" cy="151" rx="3.2" ry="1.8" transform="rotate(-35 812 151)" stroke="#000" stroke-width="1" fill="#fff"/>
<rect x="796" y="192" width="19" height="38" fill="#000"/>
<rect x="797" y="193" width="17" height="36" fill="#fff"/>
<rect x="801" y="197" width="10" height="6" fill="#000"/>
<rect x="802" y="198" width="8" height="4" fill="#fff"/>
<rect x="801" y="205" width="10" height="6" fill="#000"/>
<rect x="801" y="213" width="10" height="6" fill="#000"/>
<rect x="801" y="220" width="10" height="6" fill="#000"/>
<ellipse cx="811" cy="195" rx="3.2" ry="1.8" transform="rotate(-35 811 195)" stroke="#000" stroke-width="1" fill="#fff"/>
<path d="M783.92,173.28L794.5,166L789.08,176.72Z" fill="#000" stroke="#000" stroke-width="2" stroke-linejoin="round"/>
<path d="M758,173H785.5A4,4 0 0 1 789.5,177V188A4,4 0 0 1 785.5,192H758A4,4 0 0 1 754,188V177A4,4 0 0 1 758,173Z" fill="#000"/>
<path d="M758.3,175H784.2A2.3,2.3 0 0 1 786.5,177.3V186.7A2.3,2.3 0 0 1 784.2,189H758.3A2.3,2.3 0 0 1 756,186.7V177.3A2.3,2.3 0 0 1 758.3,175Z" fill="#fff"/>
<clipPath id="c581"><path d="M780.62,175.54L794.5,166L787.28,180.29Z"/></clipPath>
<path d="M780.70,177.43L790.25,170.86L785.40,180.46Z" fill="#fff" clip-path="url(#c581)"/>
<text filter="url(#th)" transform="translate(757.84,187) scale(0.7,1)" font-size="14.5" letter-spacing="3.22" fill="#000">SW3</text>
<path d="M783.39,218.32L793.8,211L788.11,222.18Z" fill="#000" stroke="#000" stroke-width="2" stroke-linejoin="round"/>
<path d="M757,218H784.5A4,4 0 0 1 788.5,222V232.5A4,4 0 0 1 784.5,236.5H757A4,4 0 0 1 753,232.5V222A4,4 0 0 1 757,218Z" fill="#000"/>
<path d="M757.3,220H783.2A2.3,2.3 0 0 1 785.5,222.3V232.2A2.3,2.3 0 0 1 783.2,234.5H757.3A2.3,2.3 0 0 1 755,232.2V222.3A2.3,2.3 0 0 1 757.3,220Z" fill="#fff"/>
<clipPath id="c587"><path d="M780.11,220.62L793.8,211L786.30,225.75Z"/></clipPath>
<path d="M780.22,222.50L789.46,216.01L784.42,225.91Z" fill="#fff" clip-path="url(#c587)"/>
<text filter="url(#th)" transform="translate(755.64,232) scale(0.7,1)" font-size="14.5" letter-spacing="3.63" fill="#000">SW2</text>
<rect x="815" y="327" width="19" height="14" fill="#000"/>
<rect x="816" y="332" width="17" height="1" fill="#fff"/>
<rect x="816" y="335" width="17" height="1" fill="#fff"/>
<rect x="821" y="328" width="1" height="5" fill="#fff"/>
<rect x="821" y="335" width="1" height="5" fill="#fff"/>
<rect x="827" y="328" width="1" height="5" fill="#fff"/>
<rect x="827" y="335" width="1" height="5" fill="#fff"/>
<rect x="832" y="328" width="1" height="5" fill="#fff"/>
<rect x="832" y="335" width="1" height="5" fill="#fff"/>
<rect x="829" y="329" width="2" height="2" fill="#fff"/>
<rect x="829" y="337" width="2" height="2" fill="#fff"/>
<path d="M813.38,317.67L823.4,325.2L816.62,314.83Z" fill="#000" stroke="#000" stroke-width="2" stroke-linejoin="round"/>
<path d="M796,300H813A4,4 0 0 1 817,304V314A4,4 0 0 1 813,318H796A4,4 0 0 1 792,314V304A4,4 0 0 1 796,300Z" fill="#000"/>
<path d="M796.3,302H811.7A2.3,2.3 0 0 1 814,304.3V313.7A2.3,2.3 0 0 1 811.7,316H796.3A2.3,2.3 0 0 1 794,313.7V304.3A2.3,2.3 0 0 1 796.3,302Z" fill="#fff"/>
<clipPath id="c604"><path d="M810.18,315.27L823.4,325.2L814.44,311.48Z"/></clipPath>
<path d="M810.34,313.39L817.08,318.45L812.55,311.52Z" fill="#fff" clip-path="url(#c604)"/>
<text filter="url(#th)" transform="translate(795.46,314) scale(0.64,1)" font-size="14.5" letter-spacing="5.92" fill="#000">W7</text>
<path d="M813.38,350.33L823.5,342.3L816.62,353.17Z" fill="#000" stroke="#000" stroke-width="2" stroke-linejoin="round"/>
<path d="M796,350H813A4,4 0 0 1 817,354V365A4,4 0 0 1 813,369H796A4,4 0 0 1 792,365V354A4,4 0 0 1 796,350Z" fill="#000"/>
<path d="M796.3,352H812.7A2.3,2.3 0 0 1 815,354.3V363.7A2.3,2.3 0 0 1 812.7,366H796.3A2.3,2.3 0 0 1 794,363.7V354.3A2.3,2.3 0 0 1 796.3,352Z" fill="#fff"/>
<clipPath id="c610"><path d="M810.24,352.81L823.5,342.3L814.49,356.55Z"/></clipPath>
<path d="M810.45,354.69L817.11,349.41L812.60,356.54Z" fill="#fff" clip-path="url(#c610)"/>
<text filter="url(#th)" transform="translate(795.46,362.5) scale(0.64,1)" font-size="14.5" letter-spacing="5.83" fill="#000">W6</text>
<rect x="820" y="381" width="14" height="7" fill="#000"/>
<rect x="821" y="382" width="12" height="1" fill="#fff"/>
<rect x="821" y="382" width="1" height="5" fill="#fff"/>
<rect x="827" y="382" width="1" height="5" fill="#fff"/>
<rect x="832" y="382" width="1" height="5" fill="#fff"/>
<path d="M805.00,382.00L820,385L805.00,387.80Z" fill="#000" stroke="#000" stroke-width="2" stroke-linejoin="round"/>
<path d="M783,376H801A4,4 0 0 1 805,380V390.5A4,4 0 0 1 801,394.5H783A4,4 0 0 1 779,390.5V380A4,4 0 0 1 783,376Z" fill="#000"/>
<path d="M783.3,378H800.7A2.3,2.3 0 0 1 803,380.3V389.2A2.3,2.3 0 0 1 800.7,391.5H783.3A2.3,2.3 0 0 1 781,389.2V380.3A2.3,2.3 0 0 1 783.3,378Z" fill="#fff"/>
<clipPath id="c621"><path d="M801.08,381.22L820,385L801.07,388.53Z"/></clipPath>
<path d="M799.78,382.59L811.57,384.95L799.79,387.14Z" fill="#fff" clip-path="url(#c621)"/>
<text filter="url(#th)" transform="translate(783.46,389) scale(0.64,1)" font-size="14.5" letter-spacing="5.17" fill="#000">W5</text>
<rect x="820" y="400" width="30" height="37" fill="#000"/>
<rect x="844" y="395" width="6" height="46" fill="#000"/>
<rect x="847" y="392" width="3" height="52" fill="#000"/>
<rect x="813" y="408" width="5" height="9" fill="#000"/>
<rect x="814" y="409" width="3" height="7" fill="#fff"/>
<rect x="817" y="407" width="3" height="10" fill="#000"/>
<rect x="818" y="408" width="2" height="1" fill="#fff"/>
<rect x="818" y="410" width="2" height="1" fill="#fff"/>
<rect x="818" y="412" width="2" height="1" fill="#fff"/>
<rect x="818" y="414" width="2" height="1" fill="#fff"/>
<rect x="813" y="420" width="5" height="8" fill="#000"/>
<rect x="814" y="421" width="3" height="6" fill="#fff"/>
<rect x="817" y="419" width="3" height="11" fill="#000"/>
<rect x="818" y="420" width="2" height="1" fill="#fff"/>
<rect x="818" y="422" width="2" height="1" fill="#fff"/>
<rect x="818" y="424" width="2" height="1" fill="#fff"/>
<rect x="818" y="426" width="2" height="1" fill="#fff"/>
<rect x="818" y="428" width="2" height="1" fill="#fff"/>
<rect x="786" y="443" width="13" height="31" fill="#000"/>
<rect x="791" y="444" width="2" height="29" fill="#fff"/>
<rect x="797" y="444" width="1" height="29" fill="#fff"/>
<rect x="787" y="449" width="11" height="1" fill="#fff"/>
<rect x="787" y="455" width="11" height="1" fill="#fff"/>
<rect x="787" y="460" width="11" height="2" fill="#fff"/>
<rect x="787" y="466" width="11" height="2" fill="#fff"/>
<rect x="787" y="472" width="11" height="1" fill="#fff"/>
<rect x="788" y="445" width="2" height="3" fill="#fff"/>
<rect x="786" y="489" width="13" height="31" fill="#000"/>
<rect x="791" y="490" width="2" height="29" fill="#fff"/>
<rect x="797" y="490" width="1" height="29" fill="#fff"/>
<rect x="787" y="495" width="11" height="1" fill="#fff"/>
<rect x="787" y="501" width="11" height="1" fill="#fff"/>
<rect x="787" y="506" width="11" height="1" fill="#fff"/>
<rect x="787" y="512" width="11" height="2" fill="#fff"/>
<rect x="787" y="518" width="11" height="1" fill="#fff"/>
<rect x="788" y="491" width="2" height="3" fill="#fff"/>
<rect x="826" y="444" width="13" height="78" fill="#000"/>
<rect x="831" y="445" width="2" height="76" fill="#fff"/>
<rect x="837" y="445" width="1" height="76" fill="#fff"/>
<rect x="827" y="450" width="11" height="1" fill="#fff"/>
<rect x="827" y="456" width="11" height="1" fill="#fff"/>
<rect x="827" y="462" width="11" height="2" fill="#fff"/>
<rect x="827" y="467" width="11" height="1" fill="#fff"/>
<rect x="827" y="473" width="11" height="1" fill="#fff"/>
<rect x="827" y="479" width="11" height="2" fill="#fff"/>
<rect x="827" y="485" width="11" height="1" fill="#fff"/>
<rect x="827" y="491" width="11" height="1" fill="#fff"/>
<rect x="827" y="497" width="11" height="2" fill="#fff"/>
<rect x="827" y="502" width="11" height="2" fill="#fff"/>
<rect x="827" y="508" width="11" height="1" fill="#fff"/>
<rect x="827" y="514" width="11" height="1" fill="#fff"/>
<rect x="827" y="520" width="11" height="1" fill="#fff"/>
<rect x="828" y="446" width="2" height="3" fill="#fff"/>
<path d="M789.80,425.00L791.4,441.4L795.00,425.00Z" fill="#000" stroke="#000" stroke-width="2" stroke-linejoin="round"/>
<path d="M780,406H805.5A4,4 0 0 1 809.5,410V421A4,4 0 0 1 805.5,425H780A4,4 0 0 1 776,421V410A4,4 0 0 1 780,406Z" fill="#000"/>
<path d="M780.3,409H804.2A2.3,2.3 0 0 1 806.5,411.3V420.7A2.3,2.3 0 0 1 804.2,423H780.3A2.3,2.3 0 0 1 778,420.7V411.3A2.3,2.3 0 0 1 780.3,409Z" fill="#fff"/>
<clipPath id="c680"><path d="M789.41,421.02L791.4,441.4L795.86,421.09Z"/></clipPath>
<path d="M790.91,419.87L792.01,431.16L794.51,419.77Z" fill="#fff" clip-path="url(#c680)"/>
<text filter="url(#th)" transform="translate(781.74,420) scale(0.7,1)" font-size="14.5" letter-spacing="2.49" fill="#000">J10</text>
<path d="M789.50,536.00L792,520.8L795.50,536.00Z" fill="#000" stroke="#000" stroke-width="2" stroke-linejoin="round"/>
<path d="M784,536H802A4,4 0 0 1 806,540V551A4,4 0 0 1 802,555H784A4,4 0 0 1 780,551V540A4,4 0 0 1 784,536Z" fill="#000"/>
<path d="M785.3,538H801.7A2.3,2.3 0 0 1 804,540.3V550.7A2.3,2.3 0 0 1 801.7,553H785.3A2.3,2.3 0 0 1 783,550.7V540.3A2.3,2.3 0 0 1 785.3,538Z" fill="#fff"/>
<clipPath id="c686"><path d="M788.85,539.95L792,520.8L796.40,539.90Z"/></clipPath>
<path d="M790.27,541.19L792.26,529.07L795.06,541.23Z" fill="#fff" clip-path="url(#c686)"/>
<text filter="url(#th)" transform="translate(786.04,550) scale(0.7,1)" font-size="14.5" letter-spacing="1.46" fill="#000">J9</text>
<path d="M829.50,539.00L831.8,522.7L835.50,539.00Z" fill="#000" stroke="#000" stroke-width="2" stroke-linejoin="round"/>
<path d="M824,539H842A4,4 0 0 1 846,543V554A4,4 0 0 1 842,558H824A4,4 0 0 1 820,554V543A4,4 0 0 1 824,539Z" fill="#000"/>
<path d="M825.3,541H841.7A2.3,2.3 0 0 1 844,543.3V553.7A2.3,2.3 0 0 1 841.7,556H825.3A2.3,2.3 0 0 1 823,553.7V543.3A2.3,2.3 0 0 1 825.3,541Z" fill="#fff"/>
<clipPath id="c692"><path d="M828.94,542.96L831.8,522.7L836.39,542.90Z"/></clipPath>
<path d="M830.39,544.17L832.17,531.55L835.05,544.23Z" fill="#fff" clip-path="url(#c692)"/>
<text filter="url(#th2)" transform="translate(825.74,553) scale(0.7,1)" font-size="14.5" letter-spacing="3.26" fill="#000">J8</text>
<rect x="650" y="351" width="113" height="25" fill="#000"/>
<rect x="651" y="352" width="111" height="23" fill="#fff"/>
<rect x="651" y="359" width="111" height="1" fill="#000"/>
<path d="M653,354h5v1h1v3h-1v1h-5v-1h-1v-3h1z" fill="#000"/>
<rect x="653" y="356" width="5" height="1" fill="#fff"/>
<rect x="652" y="362" width="7" height="2" fill="#000"/>
<path d="M662,354h5v1h1v3h-1v1h-5v-1h-1v-3h1z" fill="#000"/>
<rect x="662" y="356" width="5" height="1" fill="#fff"/>
<rect x="661" y="362" width="7" height="2" fill="#000"/>
<path d="M672,354h5v1h1v3h-1v1h-5v-1h-1v-3h1z" fill="#000"/>
<rect x="672" y="356" width="5" height="1" fill="#fff"/>
<rect x="671" y="362" width="7" height="2" fill="#000"/>
<path d="M681,354h5v1h1v3h-1v1h-5v-1h-1v-3h1z" fill="#000"/>
<rect x="681" y="356" width="5" height="1" fill="#fff"/>
<rect x="680" y="362" width="7" height="2" fill="#000"/>
<path d="M690,354h5v1h1v3h-1v1h-5v-1h-1v-3h1z" fill="#000"/>
<rect x="690" y="356" width="5" height="1" fill="#fff"/>
<rect x="689" y="362" width="7" height="2" fill="#000"/>
<path d="M700,354h5v1h1v3h-1v1h-5v-1h-1v-3h1z" fill="#000"/>
<rect x="700" y="356" width="5" height="1" fill="#fff"/>
<rect x="699" y="362" width="7" height="2" fill="#000"/>
<path d="M709,354h5v1h1v3h-1v1h-5v-1h-1v-3h1z" fill="#000"/>
<rect x="709" y="356" width="5" height="1" fill="#fff"/>
<rect x="708" y="362" width="7" height="2" fill="#000"/>
<path d="M718,354h5v1h1v3h-1v1h-5v-1h-1v-3h1z" fill="#000"/>
<rect x="718" y="356" width="5" height="1" fill="#fff"/>
<rect x="717" y="362" width="7" height="2" fill="#000"/>
<path d="M727,354h5v1h1v3h-1v1h-5v-1h-1v-3h1z" fill="#000"/>
<rect x="727" y="356" width="5" height="1" fill="#fff"/>
<rect x="726" y="362" width="7" height="2" fill="#000"/>
<path d="M737,354h5v1h1v3h-1v1h-5v-1h-1v-3h1z" fill="#000"/>
<rect x="737" y="356" width="5" height="1" fill="#fff"/>
<rect x="736" y="362" width="7" height="2" fill="#000"/>
<path d="M746,354h5v1h1v3h-1v1h-5v-1h-1v-3h1z" fill="#000"/>
<rect x="746" y="356" width="5" height="1" fill="#fff"/>
<rect x="745" y="362" width="7" height="2" fill="#000"/>
<path d="M755,354h5v1h1v3h-1v1h-5v-1h-1v-3h1z" fill="#000"/>
<rect x="755" y="356" width="5" height="1" fill="#fff"/>
<rect x="754" y="362" width="7" height="2" fill="#000"/>
<rect x="656" y="365" width="7" height="8" fill="#000"/>
<rect x="657" y="366" width="5" height="6" fill="#fff"/>
<rect x="666" y="365" width="7" height="8" fill="#000"/>
<rect x="667" y="366" width="5" height="6" fill="#fff"/>
<rect x="675" y="365" width="7" height="8" fill="#000"/>
<rect x="676" y="366" width="5" height="6" fill="#fff"/>
<rect x="684" y="365" width="7" height="8" fill="#000"/>
<rect x="685" y="366" width="5" height="6" fill="#fff"/>
<rect x="694" y="365" width="7" height="8" fill="#000"/>
<rect x="695" y="366" width="5" height="6" fill="#fff"/>
<rect x="703" y="365" width="7" height="8" fill="#000"/>
<rect x="704" y="366" width="5" height="6" fill="#fff"/>
<rect x="712" y="365" width="7" height="8" fill="#000"/>
<rect x="713" y="366" width="5" height="6" fill="#fff"/>
<rect x="722" y="365" width="7" height="8" fill="#000"/>
<rect x="723" y="366" width="5" height="6" fill="#fff"/>
<rect x="731" y="365" width="7" height="8" fill="#000"/>
<rect x="732" y="366" width="5" height="6" fill="#fff"/>
<rect x="740" y="365" width="7" height="8" fill="#000"/>
<rect x="741" y="366" width="5" height="6" fill="#fff"/>
<rect x="750" y="365" width="7" height="8" fill="#000"/>
<rect x="751" y="366" width="5" height="6" fill="#fff"/>
<rect x="650" y="366" width="3" height="1" fill="#000"/>
<rect x="652" y="366" width="1" height="5" fill="#000"/>
<rect x="650" y="370" width="3" height="1" fill="#000"/>
<rect x="760" y="366" width="3" height="1" fill="#000"/>
<rect x="760" y="366" width="1" height="5" fill="#000"/>
<rect x="760" y="370" width="3" height="1" fill="#000"/>
<rect x="538" y="381" width="226" height="19" fill="#000"/>
<rect x="539" y="382" width="224" height="17" fill="#fff"/>
<rect x="538" y="388" width="7" height="1" fill="#000"/>
<rect x="538" y="395" width="8" height="1" fill="#000"/>
<rect x="756" y="388" width="8" height="1" fill="#000"/>
<rect x="755" y="395" width="9" height="1" fill="#000"/>
<rect x="545" y="381" width="4" height="17" fill="#000"/>
<rect x="752" y="381" width="4" height="17" fill="#000"/>
<rect x="754" y="396" width="1" height="1" fill="#fff"/>
<path d="M549,382h8v4h2v10h-10z" fill="#000"/>
<path d="M549,382h7v5h2v8h-9z" fill="#fff"/>
<path d="M549,386h3v2h4v1h-5v-2h-2z" fill="#000"/>
<path d="M752,382h-8v4h-2v10h10z" fill="#000"/>
<path d="M752,382h-7v5h-2v8h9z" fill="#fff"/>
<path d="M752,386h-3v2h-4v1h5v-2h2z" fill="#000"/>
<rect x="556" y="386" width="1" height="3" fill="#000"/>
<rect x="744" y="386" width="1" height="3" fill="#000"/>
<rect x="563" y="383" width="175" height="14" fill="#000"/>
<rect x="566" y="390" width="4" height="6" fill="#fff"/>
<rect x="567" y="384" width="2" height="4" fill="#fff"/>
<rect x="572" y="390" width="4" height="6" fill="#fff"/>
<rect x="574" y="384" width="1" height="4" fill="#fff"/>
<rect x="578" y="390" width="4" height="6" fill="#fff"/>
<rect x="579" y="384" width="2" height="4" fill="#fff"/>
<rect x="584" y="390" width="4" height="6" fill="#fff"/>
<rect x="585" y="384" width="1" height="7" fill="#fff"/>
<rect x="585" y="396" width="1" height="1" fill="#fff"/>
<rect x="590" y="390" width="4" height="6" fill="#fff"/>
<rect x="591" y="384" width="2" height="4" fill="#fff"/>
<rect x="595" y="390" width="4" height="6" fill="#fff"/>
<rect x="597" y="384" width="1" height="4" fill="#fff"/>
<rect x="601" y="390" width="4" height="6" fill="#fff"/>
<rect x="602" y="384" width="1" height="7" fill="#fff"/>
<rect x="602" y="396" width="1" height="1" fill="#fff"/>
<rect x="607" y="390" width="4" height="6" fill="#fff"/>
<rect x="609" y="384" width="1" height="4" fill="#fff"/>
<rect x="613" y="390" width="4" height="6" fill="#fff"/>
<rect x="614" y="384" width="2" height="4" fill="#fff"/>
<rect x="619" y="390" width="4" height="6" fill="#fff"/>
<rect x="620" y="384" width="1" height="7" fill="#fff"/>
<rect x="620" y="396" width="1" height="1" fill="#fff"/>
<rect x="625" y="390" width="4" height="6" fill="#fff"/>
<rect x="626" y="384" width="2" height="4" fill="#fff"/>
<rect x="631" y="390" width="4" height="6" fill="#fff"/>
<rect x="633" y="384" width="1" height="4" fill="#fff"/>
<rect x="637" y="390" width="4" height="6" fill="#fff"/>
<rect x="638" y="384" width="1" height="7" fill="#fff"/>
<rect x="638" y="396" width="1" height="1" fill="#fff"/>
<rect x="643" y="390" width="4" height="6" fill="#fff"/>
<rect x="645" y="384" width="1" height="4" fill="#fff"/>
<rect x="648" y="390" width="4" height="6" fill="#fff"/>
<rect x="649" y="384" width="2" height="4" fill="#fff"/>
<rect x="654" y="390" width="4" height="6" fill="#fff"/>
<rect x="655" y="384" width="1" height="7" fill="#fff"/>
<rect x="655" y="396" width="1" height="1" fill="#fff"/>
<rect x="660" y="390" width="4" height="6" fill="#fff"/>
<rect x="661" y="384" width="2" height="4" fill="#fff"/>
<rect x="666" y="390" width="4" height="6" fill="#fff"/>
<rect x="668" y="384" width="1" height="4" fill="#fff"/>
<rect x="672" y="390" width="4" height="6" fill="#fff"/>
<rect x="673" y="384" width="1" height="7" fill="#fff"/>
<rect x="673" y="396" width="1" height="1" fill="#fff"/>
<rect x="678" y="390" width="4" height="6" fill="#fff"/>
<rect x="680" y="384" width="1" height="4" fill="#fff"/>
<rect x="684" y="390" width="4" height="6" fill="#fff"/>
<rect x="685" y="384" width="2" height="4" fill="#fff"/>
<rect x="690" y="390" width="4" height="6" fill="#fff"/>
<rect x="691" y="384" width="1" height="7" fill="#fff"/>
<rect x="691" y="396" width="1" height="1" fill="#fff"/>
<rect x="696" y="390" width="4" height="6" fill="#fff"/>
<rect x="697" y="384" width="2" height="4" fill="#fff"/>
<rect x="702" y="390" width="4" height="6" fill="#fff"/>
<rect x="704" y="384" width="1" height="4" fill="#fff"/>
<rect x="707" y="390" width="4" height="6" fill="#fff"/>
<rect x="708" y="384" width="1" height="7" fill="#fff"/>
<rect x="708" y="396" width="1" height="1" fill="#fff"/>
<rect x="713" y="390" width="4" height="6" fill="#fff"/>
<rect x="715" y="384" width="1" height="4" fill="#fff"/>
<rect x="719" y="390" width="4" height="6" fill="#fff"/>
<rect x="720" y="384" width="2" height="4" fill="#fff"/>
<rect x="725" y="390" width="4" height="6" fill="#fff"/>
<rect x="726" y="384" width="1" height="7" fill="#fff"/>
<rect x="726" y="396" width="1" height="1" fill="#fff"/>
<rect x="731" y="390" width="4" height="6" fill="#fff"/>
<rect x="732" y="384" width="2" height="4" fill="#fff"/>
<rect x="538" y="401" width="226" height="19" fill="#000"/>
<rect x="539" y="402" width="224" height="17" fill="#fff"/>
<rect x="538" y="408" width="7" height="1" fill="#000"/>
<rect x="538" y="415" width="8" height="1" fill="#000"/>
<rect x="756" y="408" width="8" height="1" fill="#000"/>
<rect x="755" y="415" width="9" height="1" fill="#000"/>
<rect x="545" y="401" width="4" height="17" fill="#000"/>
<rect x="752" y="401" width="4" height="17" fill="#000"/>
<rect x="754" y="416" width="1" height="1" fill="#fff"/>
<path d="M549,402h8v4h2v10h-10z" fill="#000"/>
<path d="M549,402h7v5h2v8h-9z" fill="#fff"/>
<path d="M549,406h3v2h4v1h-5v-2h-2z" fill="#000"/>
<path d="M752,402h-8v4h-2v10h10z" fill="#000"/>
<path d="M752,402h-7v5h-2v8h9z" fill="#fff"/>
<path d="M752,406h-3v2h-4v1h5v-2h2z" fill="#000"/>
<rect x="556" y="406" width="1" height="3" fill="#000"/>
<rect x="744" y="406" width="1" height="3" fill="#000"/>
<rect x="563" y="403" width="175" height="14" fill="#000"/>
<rect x="566" y="410" width="4" height="6" fill="#fff"/>
<rect x="567" y="404" width="2" height="4" fill="#fff"/>
<rect x="572" y="410" width="4" height="6" fill="#fff"/>
<rect x="574" y="404" width="1" height="4" fill="#fff"/>
<rect x="578" y="410" width="4" height="6" fill="#fff"/>
<rect x="579" y="404" width="2" height="4" fill="#fff"/>
<rect x="584" y="410" width="4" height="6" fill="#fff"/>
<rect x="585" y="404" width="1" height="7" fill="#fff"/>
<rect x="585" y="416" width="1" height="1" fill="#fff"/>
<rect x="590" y="410" width="4" height="6" fill="#fff"/>
<rect x="591" y="404" width="2" height="4" fill="#fff"/>
<rect x="595" y="410" width="4" height="6" fill="#fff"/>
<rect x="597" y="404" width="1" height="4" fill="#fff"/>
<rect x="601" y="410" width="4" height="6" fill="#fff"/>
<rect x="602" y="404" width="1" height="7" fill="#fff"/>
<rect x="602" y="416" width="1" height="1" fill="#fff"/>
<rect x="607" y="410" width="4" height="6" fill="#fff"/>
<rect x="609" y="404" width="1" height="4" fill="#fff"/>
<rect x="613" y="410" width="4" height="6" fill="#fff"/>
<rect x="614" y="404" width="2" height="4" fill="#fff"/>
<rect x="619" y="410" width="4" height="6" fill="#fff"/>
<rect x="620" y="404" width="1" height="7" fill="#fff"/>
<rect x="620" y="416" width="1" height="1" fill="#fff"/>
<rect x="625" y="410" width="4" height="6" fill="#fff"/>
<rect x="626" y="404" width="2" height="4" fill="#fff"/>
<rect x="631" y="410" width="4" height="6" fill="#fff"/>
<rect x="633" y="404" width="1" height="4" fill="#fff"/>
<rect x="637" y="410" width="4" height="6" fill="#fff"/>
<rect x="638" y="404" width="1" height="7" fill="#fff"/>
<rect x="638" y="416" width="1" height="1" fill="#fff"/>
<rect x="643" y="410" width="4" height="6" fill="#fff"/>
<rect x="645" y="404" width="1" height="4" fill="#fff"/>
<rect x="648" y="410" width="4" height="6" fill="#fff"/>
<rect x="649" y="404" width="2" height="4" fill="#fff"/>
<rect x="654" y="410" width="4" height="6" fill="#fff"/>
<rect x="655" y="404" width="1" height="7" fill="#fff"/>
<rect x="655" y="416" width="1" height="1" fill="#fff"/>
<rect x="660" y="410" width="4" height="6" fill="#fff"/>
<rect x="661" y="404" width="2" height="4" fill="#fff"/>
<rect x="666" y="410" width="4" height="6" fill="#fff"/>
<rect x="668" y="404" width="1" height="4" fill="#fff"/>
<rect x="672" y="410" width="4" height="6" fill="#fff"/>
<rect x="673" y="404" width="1" height="7" fill="#fff"/>
<rect x="673" y="416" width="1" height="1" fill="#fff"/>
<rect x="678" y="410" width="4" height="6" fill="#fff"/>
<rect x="680" y="404" width="1" height="4" fill="#fff"/>
<rect x="684" y="410" width="4" height="6" fill="#fff"/>
<rect x="685" y="404" width="2" height="4" fill="#fff"/>
<rect x="690" y="410" width="4" height="6" fill="#fff"/>
<rect x="691" y="404" width="1" height="7" fill="#fff"/>
<rect x="691" y="416" width="1" height="1" fill="#fff"/>
<rect x="696" y="410" width="4" height="6" fill="#fff"/>
<rect x="697" y="404" width="2" height="4" fill="#fff"/>
<rect x="702" y="410" width="4" height="6" fill="#fff"/>
<rect x="704" y="404" width="1" height="4" fill="#fff"/>
<rect x="707" y="410" width="4" height="6" fill="#fff"/>
<rect x="708" y="404" width="1" height="7" fill="#fff"/>
<rect x="708" y="416" width="1" height="1" fill="#fff"/>
<rect x="713" y="410" width="4" height="6" fill="#fff"/>
<rect x="715" y="404" width="1" height="4" fill="#fff"/>
<rect x="719" y="410" width="4" height="6" fill="#fff"/>
<rect x="720" y="404" width="2" height="4" fill="#fff"/>
<rect x="725" y="410" width="4" height="6" fill="#fff"/>
<rect x="726" y="404" width="1" height="7" fill="#fff"/>
<rect x="726" y="416" width="1" height="1" fill="#fff"/>
<rect x="731" y="410" width="4" height="6" fill="#fff"/>
<rect x="732" y="404" width="2" height="4" fill="#fff"/>
<rect x="538" y="421" width="226" height="19" fill="#000"/>
<rect x="539" y="422" width="224" height="17" fill="#fff"/>
<rect x="538" y="428" width="7" height="1" fill="#000"/>
<rect x="538" y="435" width="8" height="1" fill="#000"/>
<rect x="756" y="428" width="8" height="1" fill="#000"/>
<rect x="755" y="435" width="9" height="1" fill="#000"/>
<rect x="545" y="421" width="4" height="17" fill="#000"/>
<rect x="752" y="421" width="4" height="17" fill="#000"/>
<rect x="754" y="436" width="1" height="1" fill="#fff"/>
<path d="M549,422h8v4h2v10h-10z" fill="#000"/>
<path d="M549,422h7v5h2v8h-9z" fill="#fff"/>
<path d="M549,426h3v2h4v1h-5v-2h-2z" fill="#000"/>
<path d="M752,422h-8v4h-2v10h10z" fill="#000"/>
<path d="M752,422h-7v5h-2v8h9z" fill="#fff"/>
<path d="M752,426h-3v2h-4v1h5v-2h2z" fill="#000"/>
<rect x="556" y="426" width="1" height="3" fill="#000"/>
<rect x="744" y="426" width="1" height="3" fill="#000"/>
<rect x="563" y="423" width="175" height="14" fill="#000"/>
<rect x="566" y="430" width="4" height="6" fill="#fff"/>
<rect x="567" y="424" width="2" height="4" fill="#fff"/>
<rect x="572" y="430" width="4" height="6" fill="#fff"/>
<rect x="574" y="424" width="1" height="4" fill="#fff"/>
<rect x="578" y="430" width="4" height="6" fill="#fff"/>
<rect x="579" y="424" width="2" height="4" fill="#fff"/>
<rect x="584" y="430" width="4" height="6" fill="#fff"/>
<rect x="585" y="424" width="1" height="7" fill="#fff"/>
<rect x="585" y="436" width="1" height="1" fill="#fff"/>
<rect x="590" y="430" width="4" height="6" fill="#fff"/>
<rect x="591" y="424" width="2" height="4" fill="#fff"/>
<rect x="595" y="430" width="4" height="6" fill="#fff"/>
<rect x="597" y="424" width="1" height="4" fill="#fff"/>
<rect x="601" y="430" width="4" height="6" fill="#fff"/>
<rect x="602" y="424" width="1" height="7" fill="#fff"/>
<rect x="602" y="436" width="1" height="1" fill="#fff"/>
<rect x="607" y="430" width="4" height="6" fill="#fff"/>
<rect x="609" y="424" width="1" height="4" fill="#fff"/>
<rect x="613" y="430" width="4" height="6" fill="#fff"/>
<rect x="614" y="424" width="2" height="4" fill="#fff"/>
<rect x="619" y="430" width="4" height="6" fill="#fff"/>
<rect x="620" y="424" width="1" height="7" fill="#fff"/>
<rect x="620" y="436" width="1" height="1" fill="#fff"/>
<rect x="625" y="430" width="4" height="6" fill="#fff"/>
<rect x="626" y="424" width="2" height="4" fill="#fff"/>
<rect x="631" y="430" width="4" height="6" fill="#fff"/>
<rect x="633" y="424" width="1" height="4" fill="#fff"/>
<rect x="637" y="430" width="4" height="6" fill="#fff"/>
<rect x="638" y="424" width="1" height="7" fill="#fff"/>
<rect x="638" y="436" width="1" height="1" fill="#fff"/>
<rect x="643" y="430" width="4" height="6" fill="#fff"/>
<rect x="645" y="424" width="1" height="4" fill="#fff"/>
<rect x="648" y="430" width="4" height="6" fill="#fff"/>
<rect x="649" y="424" width="2" height="4" fill="#fff"/>
<rect x="654" y="430" width="4" height="6" fill="#fff"/>
<rect x="655" y="424" width="1" height="7" fill="#fff"/>
<rect x="655" y="436" width="1" height="1" fill="#fff"/>
<rect x="660" y="430" width="4" height="6" fill="#fff"/>
<rect x="661" y="424" width="2" height="4" fill="#fff"/>
<rect x="666" y="430" width="4" height="6" fill="#fff"/>
<rect x="668" y="424" width="1" height="4" fill="#fff"/>
<rect x="672" y="430" width="4" height="6" fill="#fff"/>
<rect x="673" y="424" width="1" height="7" fill="#fff"/>
<rect x="673" y="436" width="1" height="1" fill="#fff"/>
<rect x="678" y="430" width="4" height="6" fill="#fff"/>
<rect x="680" y="424" width="1" height="4" fill="#fff"/>
<rect x="684" y="430" width="4" height="6" fill="#fff"/>
<rect x="685" y="424" width="2" height="4" fill="#fff"/>
<rect x="690" y="430" width="4" height="6" fill="#fff"/>
<rect x="691" y="424" width="1" height="7" fill="#fff"/>
<rect x="691" y="436" width="1" height="1" fill="#fff"/>
<rect x="696" y="430" width="4" height="6" fill="#fff"/>
<rect x="697" y="424" width="2" height="4" fill="#fff"/>
<rect x="702" y="430" width="4" height="6" fill="#fff"/>
<rect x="704" y="424" width="1" height="4" fill="#fff"/>
<rect x="707" y="430" width="4" height="6" fill="#fff"/>
<rect x="708" y="424" width="1" height="7" fill="#fff"/>
<rect x="708" y="436" width="1" height="1" fill="#fff"/>
<rect x="713" y="430" width="4" height="6" fill="#fff"/>
<rect x="715" y="424" width="1" height="4" fill="#fff"/>
<rect x="719" y="430" width="4" height="6" fill="#fff"/>
<rect x="720" y="424" width="2" height="4" fill="#fff"/>
<rect x="725" y="430" width="4" height="6" fill="#fff"/>
<rect x="726" y="424" width="1" height="7" fill="#fff"/>
<rect x="726" y="436" width="1" height="1" fill="#fff"/>
<rect x="731" y="430" width="4" height="6" fill="#fff"/>
<rect x="732" y="424" width="2" height="4" fill="#fff"/>
<rect x="538" y="441" width="226" height="19" fill="#000"/>
<rect x="539" y="442" width="224" height="17" fill="#fff"/>
<rect x="538" y="448" width="7" height="1" fill="#000"/>
<rect x="538" y="455" width="8" height="1" fill="#000"/>
<rect x="756" y="448" width="8" height="1" fill="#000"/>
<rect x="755" y="455" width="9" height="1" fill="#000"/>
<rect x="545" y="441" width="4" height="17" fill="#000"/>
<rect x="752" y="441" width="4" height="17" fill="#000"/>
<rect x="754" y="456" width="1" height="1" fill="#fff"/>
<path d="M549,442h8v4h2v10h-10z" fill="#000"/>
<path d="M549,442h7v5h2v8h-9z" fill="#fff"/>
<path d="M549,446h3v2h4v1h-5v-2h-2z" fill="#000"/>
<path d="M752,442h-8v4h-2v10h10z" fill="#000"/>
<path d="M752,442h-7v5h-2v8h9z" fill="#fff"/>
<path d="M752,446h-3v2h-4v1h5v-2h2z" fill="#000"/>
<rect x="556" y="446" width="1" height="3" fill="#000"/>
<rect x="744" y="446" width="1" height="3" fill="#000"/>
<rect x="563" y="444" width="175" height="14" fill="#000"/>
<rect x="566" y="451" width="4" height="5" fill="#fff"/>
<rect x="567" y="445" width="2" height="4" fill="#fff"/>
<rect x="572" y="451" width="4" height="5" fill="#fff"/>
<rect x="574" y="445" width="1" height="4" fill="#fff"/>
<rect x="578" y="451" width="4" height="5" fill="#fff"/>
<rect x="579" y="445" width="2" height="4" fill="#fff"/>
<rect x="584" y="451" width="4" height="5" fill="#fff"/>
<rect x="585" y="445" width="1" height="6" fill="#fff"/>
<rect x="585" y="456" width="1" height="2" fill="#fff"/>
<rect x="590" y="451" width="4" height="5" fill="#fff"/>
<rect x="591" y="445" width="2" height="4" fill="#fff"/>
<rect x="595" y="451" width="4" height="5" fill="#fff"/>
<rect x="597" y="445" width="1" height="4" fill="#fff"/>
<rect x="601" y="451" width="4" height="5" fill="#fff"/>
<rect x="602" y="445" width="1" height="6" fill="#fff"/>
<rect x="602" y="456" width="1" height="2" fill="#fff"/>
<rect x="607" y="451" width="4" height="5" fill="#fff"/>
<rect x="609" y="445" width="1" height="4" fill="#fff"/>
<rect x="613" y="451" width="4" height="5" fill="#fff"/>
<rect x="614" y="445" width="2" height="4" fill="#fff"/>
<rect x="619" y="451" width="4" height="5" fill="#fff"/>
<rect x="620" y="445" width="1" height="6" fill="#fff"/>
<rect x="620" y="456" width="1" height="2" fill="#fff"/>
<rect x="625" y="451" width="4" height="5" fill="#fff"/>
<rect x="626" y="445" width="2" height="4" fill="#fff"/>
<rect x="631" y="451" width="4" height="5" fill="#fff"/>
<rect x="633" y="445" width="1" height="4" fill="#fff"/>
<rect x="637" y="451" width="4" height="5" fill="#fff"/>
<rect x="638" y="445" width="1" height="6" fill="#fff"/>
<rect x="638" y="456" width="1" height="2" fill="#fff"/>
<rect x="643" y="451" width="4" height="5" fill="#fff"/>
<rect x="645" y="445" width="1" height="4" fill="#fff"/>
<rect x="648" y="451" width="4" height="5" fill="#fff"/>
<rect x="649" y="445" width="2" height="4" fill="#fff"/>
<rect x="654" y="451" width="4" height="5" fill="#fff"/>
<rect x="655" y="445" width="1" height="6" fill="#fff"/>
<rect x="655" y="456" width="1" height="2" fill="#fff"/>
<rect x="660" y="451" width="4" height="5" fill="#fff"/>
<rect x="661" y="445" width="2" height="4" fill="#fff"/>
<rect x="666" y="451" width="4" height="5" fill="#fff"/>
<rect x="668" y="445" width="1" height="4" fill="#fff"/>
<rect x="672" y="451" width="4" height="5" fill="#fff"/>
<rect x="673" y="445" width="1" height="6" fill="#fff"/>
<rect x="673" y="456" width="1" height="2" fill="#fff"/>
<rect x="678" y="451" width="4" height="5" fill="#fff"/>
<rect x="680" y="445" width="1" height="4" fill="#fff"/>
<rect x="684" y="451" width="4" height="5" fill="#fff"/>
<rect x="685" y="445" width="2" height="4" fill="#fff"/>
<rect x="690" y="451" width="4" height="5" fill="#fff"/>
<rect x="691" y="445" width="1" height="6" fill="#fff"/>
<rect x="691" y="456" width="1" height="2" fill="#fff"/>
<rect x="696" y="451" width="4" height="5" fill="#fff"/>
<rect x="697" y="445" width="2" height="4" fill="#fff"/>
<rect x="702" y="451" width="4" height="5" fill="#fff"/>
<rect x="704" y="445" width="1" height="4" fill="#fff"/>
<rect x="707" y="451" width="4" height="5" fill="#fff"/>
<rect x="708" y="445" width="1" height="6" fill="#fff"/>
<rect x="708" y="456" width="1" height="2" fill="#fff"/>
<rect x="713" y="451" width="4" height="5" fill="#fff"/>
<rect x="715" y="445" width="1" height="4" fill="#fff"/>
<rect x="719" y="451" width="4" height="5" fill="#fff"/>
<rect x="720" y="445" width="2" height="4" fill="#fff"/>
<rect x="725" y="451" width="4" height="5" fill="#fff"/>
<rect x="726" y="445" width="1" height="6" fill="#fff"/>
<rect x="726" y="456" width="1" height="2" fill="#fff"/>
<rect x="731" y="451" width="4" height="5" fill="#fff"/>
<rect x="732" y="445" width="2" height="4" fill="#fff"/>
<rect x="538" y="462" width="226" height="19" fill="#000"/>
<rect x="539" y="463" width="224" height="17" fill="#fff"/>
<rect x="538" y="469" width="7" height="1" fill="#000"/>
<rect x="538" y="476" width="8" height="1" fill="#000"/>
<rect x="756" y="469" width="8" height="1" fill="#000"/>
<rect x="755" y="476" width="9" height="1" fill="#000"/>
<rect x="545" y="462" width="4" height="17" fill="#000"/>
<rect x="752" y="462" width="4" height="17" fill="#000"/>
<rect x="754" y="477" width="1" height="1" fill="#fff"/>
<path d="M549,463h8v4h2v10h-10z" fill="#000"/>
<path d="M549,463h7v5h2v8h-9z" fill="#fff"/>
<path d="M549,467h3v2h4v1h-5v-2h-2z" fill="#000"/>
<path d="M752,463h-8v4h-2v10h10z" fill="#000"/>
<path d="M752,463h-7v5h-2v8h9z" fill="#fff"/>
<path d="M752,467h-3v2h-4v1h5v-2h2z" fill="#000"/>
<rect x="556" y="467" width="1" height="3" fill="#000"/>
<rect x="744" y="467" width="1" height="3" fill="#000"/>
<rect x="563" y="464" width="175" height="14" fill="#000"/>
<rect x="566" y="471" width="4" height="6" fill="#fff"/>
<rect x="567" y="465" width="2" height="4" fill="#fff"/>
<rect x="572" y="471" width="4" height="6" fill="#fff"/>
<rect x="574" y="465" width="1" height="4" fill="#fff"/>
<rect x="578" y="471" width="4" height="6" fill="#fff"/>
<rect x="579" y="465" width="2" height="4" fill="#fff"/>
<rect x="584" y="471" width="4" height="6" fill="#fff"/>
<rect x="585" y="465" width="1" height="7" fill="#fff"/>
<rect x="585" y="477" width="1" height="1" fill="#fff"/>
<rect x="590" y="471" width="4" height="6" fill="#fff"/>
<rect x="591" y="465" width="2" height="4" fill="#fff"/>
<rect x="595" y="471" width="4" height="6" fill="#fff"/>
<rect x="597" y="465" width="1" height="4" fill="#fff"/>
<rect x="601" y="471" width="4" height="6" fill="#fff"/>
<rect x="602" y="465" width="1" height="7" fill="#fff"/>
<rect x="602" y="477" width="1" height="1" fill="#fff"/>
<rect x="607" y="471" width="4" height="6" fill="#fff"/>
<rect x="609" y="465" width="1" height="4" fill="#fff"/>
<rect x="613" y="471" width="4" height="6" fill="#fff"/>
<rect x="614" y="465" width="2" height="4" fill="#fff"/>
<rect x="619" y="471" width="4" height="6" fill="#fff"/>
<rect x="620" y="465" width="1" height="7" fill="#fff"/>
<rect x="620" y="477" width="1" height="1" fill="#fff"/>
<rect x="625" y="471" width="4" height="6" fill="#fff"/>
<rect x="626" y="465" width="2" height="4" fill="#fff"/>
<rect x="631" y="471" width="4" height="6" fill="#fff"/>
<rect x="633" y="465" width="1" height="4" fill="#fff"/>
<rect x="637" y="471" width="4" height="6" fill="#fff"/>
<rect x="638" y="465" width="1" height="7" fill="#fff"/>
<rect x="638" y="477" width="1" height="1" fill="#fff"/>
<rect x="643" y="471" width="4" height="6" fill="#fff"/>
<rect x="645" y="465" width="1" height="4" fill="#fff"/>
<rect x="648" y="471" width="4" height="6" fill="#fff"/>
<rect x="649" y="465" width="2" height="4" fill="#fff"/>
<rect x="654" y="471" width="4" height="6" fill="#fff"/>
<rect x="655" y="465" width="1" height="7" fill="#fff"/>
<rect x="655" y="477" width="1" height="1" fill="#fff"/>
<rect x="660" y="471" width="4" height="6" fill="#fff"/>
<rect x="661" y="465" width="2" height="4" fill="#fff"/>
<rect x="666" y="471" width="4" height="6" fill="#fff"/>
<rect x="668" y="465" width="1" height="4" fill="#fff"/>
<rect x="672" y="471" width="4" height="6" fill="#fff"/>
<rect x="673" y="465" width="1" height="7" fill="#fff"/>
<rect x="673" y="477" width="1" height="1" fill="#fff"/>
<rect x="678" y="471" width="4" height="6" fill="#fff"/>
<rect x="680" y="465" width="1" height="4" fill="#fff"/>
<rect x="684" y="471" width="4" height="6" fill="#fff"/>
<rect x="685" y="465" width="2" height="4" fill="#fff"/>
<rect x="690" y="471" width="4" height="6" fill="#fff"/>
<rect x="691" y="465" width="1" height="7" fill="#fff"/>
<rect x="691" y="477" width="1" height="1" fill="#fff"/>
<rect x="696" y="471" width="4" height="6" fill="#fff"/>
<rect x="697" y="465" width="2" height="4" fill="#fff"/>
<rect x="702" y="471" width="4" height="6" fill="#fff"/>
<rect x="704" y="465" width="1" height="4" fill="#fff"/>
<rect x="707" y="471" width="4" height="6" fill="#fff"/>
<rect x="708" y="465" width="1" height="7" fill="#fff"/>
<rect x="708" y="477" width="1" height="1" fill="#fff"/>
<rect x="713" y="471" width="4" height="6" fill="#fff"/>
<rect x="715" y="465" width="1" height="4" fill="#fff"/>
<rect x="719" y="471" width="4" height="6" fill="#fff"/>
<rect x="720" y="465" width="2" height="4" fill="#fff"/>
<rect x="725" y="471" width="4" height="6" fill="#fff"/>
<rect x="726" y="465" width="1" height="7" fill="#fff"/>
<rect x="726" y="477" width="1" height="1" fill="#fff"/>
<rect x="731" y="471" width="4" height="6" fill="#fff"/>
<rect x="732" y="465" width="2" height="4" fill="#fff"/>
<rect x="538" y="482" width="226" height="19" fill="#000"/>
<rect x="539" y="483" width="224" height="17" fill="#fff"/>
<rect x="538" y="489" width="7" height="1" fill="#000"/>
<rect x="538" y="496" width="8" height="1" fill="#000"/>
<rect x="756" y="489" width="8" height="1" fill="#000"/>
<rect x="755" y="496" width="9" height="1" fill="#000"/>
<rect x="545" y="482" width="4" height="17" fill="#000"/>
<rect x="752" y="482" width="4" height="17" fill="#000"/>
<rect x="754" y="497" width="1" height="1" fill="#fff"/>
<path d="M549,483h8v4h2v10h-10z" fill="#000"/>
<path d="M549,483h7v5h2v8h-9z" fill="#fff"/>
<path d="M549,487h3v2h4v1h-5v-2h-2z" fill="#000"/>
<path d="M752,483h-8v4h-2v10h10z" fill="#000"/>
<path d="M752,483h-7v5h-2v8h9z" fill="#fff"/>
<path d="M752,487h-3v2h-4v1h5v-2h2z" fill="#000"/>
<rect x="556" y="487" width="1" height="3" fill="#000"/>
<rect x="744" y="487" width="1" height="3" fill="#000"/>
<rect x="563" y="484" width="175" height="14" fill="#000"/>
<rect x="566" y="491" width="4" height="6" fill="#fff"/>
<rect x="567" y="485" width="2" height="4" fill="#fff"/>
<rect x="572" y="491" width="4" height="6" fill="#fff"/>
<rect x="574" y="485" width="1" height="4" fill="#fff"/>
<rect x="578" y="491" width="4" height="6" fill="#fff"/>
<rect x="579" y="485" width="2" height="4" fill="#fff"/>
<rect x="584" y="491" width="4" height="6" fill="#fff"/>
<rect x="585" y="485" width="1" height="7" fill="#fff"/>
<rect x="585" y="497" width="1" height="1" fill="#fff"/>
<rect x="590" y="491" width="4" height="6" fill="#fff"/>
<rect x="591" y="485" width="2" height="4" fill="#fff"/>
<rect x="595" y="491" width="4" height="6" fill="#fff"/>
<rect x="597" y="485" width="1" height="4" fill="#fff"/>
<rect x="601" y="491" width="4" height="6" fill="#fff"/>
<rect x="602" y="485" width="1" height="7" fill="#fff"/>
<rect x="602" y="497" width="1" height="1" fill="#fff"/>
<rect x="607" y="491" width="4" height="6" fill="#fff"/>
<rect x="609" y="485" width="1" height="4" fill="#fff"/>
<rect x="613" y="491" width="4" height="6" fill="#fff"/>
<rect x="614" y="485" width="2" height="4" fill="#fff"/>
<rect x="619" y="491" width="4" height="6" fill="#fff"/>
<rect x="620" y="485" width="1" height="7" fill="#fff"/>
<rect x="620" y="497" width="1" height="1" fill="#fff"/>
<rect x="625" y="491" width="4" height="6" fill="#fff"/>
<rect x="626" y="485" width="2" height="4" fill="#fff"/>
<rect x="631" y="491" width="4" height="6" fill="#fff"/>
<rect x="633" y="485" width="1" height="4" fill="#fff"/>
<rect x="637" y="491" width="4" height="6" fill="#fff"/>
<rect x="638" y="485" width="1" height="7" fill="#fff"/>
<rect x="638" y="497" width="1" height="1" fill="#fff"/>
<rect x="643" y="491" width="4" height="6" fill="#fff"/>
<rect x="645" y="485" width="1" height="4" fill="#fff"/>
<rect x="648" y="491" width="4" height="6" fill="#fff"/>
<rect x="649" y="485" width="2" height="4" fill="#fff"/>
<rect x="654" y="491" width="4" height="6" fill="#fff"/>
<rect x="655" y="485" width="1" height="7" fill="#fff"/>
<rect x="655" y="497" width="1" height="1" fill="#fff"/>
<rect x="660" y="491" width="4" height="6" fill="#fff"/>
<rect x="661" y="485" width="2" height="4" fill="#fff"/>
<rect x="666" y="491" width="4" height="6" fill="#fff"/>
<rect x="668" y="485" width="1" height="4" fill="#fff"/>
<rect x="672" y="491" width="4" height="6" fill="#fff"/>
<rect x="673" y="485" width="1" height="7" fill="#fff"/>
<rect x="673" y="497" width="1" height="1" fill="#fff"/>
<rect x="678" y="491" width="4" height="6" fill="#fff"/>
<rect x="680" y="485" width="1" height="4" fill="#fff"/>
<rect x="684" y="491" width="4" height="6" fill="#fff"/>
<rect x="685" y="485" width="2" height="4" fill="#fff"/>
<rect x="690" y="491" width="4" height="6" fill="#fff"/>
<rect x="691" y="485" width="1" height="7" fill="#fff"/>
<rect x="691" y="497" width="1" height="1" fill="#fff"/>
<rect x="696" y="491" width="4" height="6" fill="#fff"/>
<rect x="697" y="485" width="2" height="4" fill="#fff"/>
<rect x="702" y="491" width="4" height="6" fill="#fff"/>
<rect x="704" y="485" width="1" height="4" fill="#fff"/>
<rect x="707" y="491" width="4" height="6" fill="#fff"/>
<rect x="708" y="485" width="1" height="7" fill="#fff"/>
<rect x="708" y="497" width="1" height="1" fill="#fff"/>
<rect x="713" y="491" width="4" height="6" fill="#fff"/>
<rect x="715" y="485" width="1" height="4" fill="#fff"/>
<rect x="719" y="491" width="4" height="6" fill="#fff"/>
<rect x="720" y="485" width="2" height="4" fill="#fff"/>
<rect x="725" y="491" width="4" height="6" fill="#fff"/>
<rect x="726" y="485" width="1" height="7" fill="#fff"/>
<rect x="726" y="497" width="1" height="1" fill="#fff"/>
<rect x="731" y="491" width="4" height="6" fill="#fff"/>
<rect x="732" y="485" width="2" height="4" fill="#fff"/>
<rect x="538" y="502" width="226" height="19" fill="#000"/>
<rect x="539" y="503" width="224" height="17" fill="#fff"/>
<rect x="538" y="509" width="7" height="1" fill="#000"/>
<rect x="538" y="516" width="8" height="1" fill="#000"/>
<rect x="756" y="509" width="8" height="1" fill="#000"/>
<rect x="755" y="516" width="9" height="1" fill="#000"/>
<rect x="545" y="502" width="4" height="17" fill="#000"/>
<rect x="752" y="502" width="4" height="17" fill="#000"/>
<rect x="754" y="517" width="1" height="1" fill="#fff"/>
<path d="M549,503h8v4h2v10h-10z" fill="#000"/>
<path d="M549,503h7v5h2v8h-9z" fill="#fff"/>
<path d="M549,507h3v2h4v1h-5v-2h-2z" fill="#000"/>
<path d="M752,503h-8v4h-2v10h10z" fill="#000"/>
<path d="M752,503h-7v5h-2v8h9z" fill="#fff"/>
<path d="M752,507h-3v2h-4v1h5v-2h2z" fill="#000"/>
<rect x="556" y="507" width="1" height="3" fill="#000"/>
<rect x="744" y="507" width="1" height="3" fill="#000"/>
<rect x="563" y="504" width="175" height="14" fill="#000"/>
<rect x="566" y="511" width="4" height="6" fill="#fff"/>
<rect x="567" y="505" width="2" height="4" fill="#fff"/>
<rect x="572" y="511" width="4" height="6" fill="#fff"/>
<rect x="574" y="505" width="1" height="4" fill="#fff"/>
<rect x="578" y="511" width="4" height="6" fill="#fff"/>
<rect x="579" y="505" width="2" height="4" fill="#fff"/>
<rect x="584" y="511" width="4" height="6" fill="#fff"/>
<rect x="585" y="505" width="1" height="7" fill="#fff"/>
<rect x="585" y="517" width="1" height="1" fill="#fff"/>
<rect x="590" y="511" width="4" height="6" fill="#fff"/>
<rect x="591" y="505" width="2" height="4" fill="#fff"/>
<rect x="595" y="511" width="4" height="6" fill="#fff"/>
<rect x="597" y="505" width="1" height="4" fill="#fff"/>
<rect x="601" y="511" width="4" height="6" fill="#fff"/>
<rect x="602" y="505" width="1" height="7" fill="#fff"/>
<rect x="602" y="517" width="1" height="1" fill="#fff"/>
<rect x="607" y="511" width="4" height="6" fill="#fff"/>
<rect x="609" y="505" width="1" height="4" fill="#fff"/>
<rect x="613" y="511" width="4" height="6" fill="#fff"/>
<rect x="614" y="505" width="2" height="4" fill="#fff"/>
<rect x="619" y="511" width="4" height="6" fill="#fff"/>
<rect x="620" y="505" width="1" height="7" fill="#fff"/>
<rect x="620" y="517" width="1" height="1" fill="#fff"/>
<rect x="625" y="511" width="4" height="6" fill="#fff"/>
<rect x="626" y="505" width="2" height="4" fill="#fff"/>
<rect x="631" y="511" width="4" height="6" fill="#fff"/>
<rect x="633" y="505" width="1" height="4" fill="#fff"/>
<rect x="637" y="511" width="4" height="6" fill="#fff"/>
<rect x="638" y="505" width="1" height="7" fill="#fff"/>
<rect x="638" y="517" width="1" height="1" fill="#fff"/>
<rect x="643" y="511" width="4" height="6" fill="#fff"/>
<rect x="645" y="505" width="1" height="4" fill="#fff"/>
<rect x="648" y="511" width="4" height="6" fill="#fff"/>
<rect x="649" y="505" width="2" height="4" fill="#fff"/>
<rect x="654" y="511" width="4" height="6" fill="#fff"/>
<rect x="655" y="505" width="1" height="7" fill="#fff"/>
<rect x="655" y="517" width="1" height="1" fill="#fff"/>
<rect x="660" y="511" width="4" height="6" fill="#fff"/>
<rect x="661" y="505" width="2" height="4" fill="#fff"/>
<rect x="666" y="511" width="4" height="6" fill="#fff"/>
<rect x="668" y="505" width="1" height="4" fill="#fff"/>
<rect x="672" y="511" width="4" height="6" fill="#fff"/>
<rect x="673" y="505" width="1" height="7" fill="#fff"/>
<rect x="673" y="517" width="1" height="1" fill="#fff"/>
<rect x="678" y="511" width="4" height="6" fill="#fff"/>
<rect x="680" y="505" width="1" height="4" fill="#fff"/>
<rect x="684" y="511" width="4" height="6" fill="#fff"/>
<rect x="685" y="505" width="2" height="4" fill="#fff"/>
<rect x="690" y="511" width="4" height="6" fill="#fff"/>
<rect x="691" y="505" width="1" height="7" fill="#fff"/>
<rect x="691" y="517" width="1" height="1" fill="#fff"/>
<rect x="696" y="511" width="4" height="6" fill="#fff"/>
<rect x="697" y="505" width="2" height="4" fill="#fff"/>
<rect x="702" y="511" width="4" height="6" fill="#fff"/>
<rect x="704" y="505" width="1" height="4" fill="#fff"/>
<rect x="707" y="511" width="4" height="6" fill="#fff"/>
<rect x="708" y="505" width="1" height="7" fill="#fff"/>
<rect x="708" y="517" width="1" height="1" fill="#fff"/>
<rect x="713" y="511" width="4" height="6" fill="#fff"/>
<rect x="715" y="505" width="1" height="4" fill="#fff"/>
<rect x="719" y="511" width="4" height="6" fill="#fff"/>
<rect x="720" y="505" width="2" height="4" fill="#fff"/>
<rect x="725" y="511" width="4" height="6" fill="#fff"/>
<rect x="726" y="505" width="1" height="7" fill="#fff"/>
<rect x="726" y="517" width="1" height="1" fill="#fff"/>
<rect x="731" y="511" width="4" height="6" fill="#fff"/>
<rect x="732" y="505" width="2" height="4" fill="#fff"/>
<rect x="538" y="522" width="226" height="19" fill="#000"/>
<rect x="539" y="523" width="224" height="17" fill="#fff"/>
<rect x="538" y="529" width="7" height="1" fill="#000"/>
<rect x="538" y="536" width="8" height="1" fill="#000"/>
<rect x="756" y="529" width="8" height="1" fill="#000"/>
<rect x="755" y="536" width="9" height="1" fill="#000"/>
<rect x="545" y="522" width="4" height="17" fill="#000"/>
<rect x="752" y="522" width="4" height="17" fill="#000"/>
<rect x="754" y="537" width="1" height="1" fill="#fff"/>
<path d="M549,523h8v4h2v10h-10z" fill="#000"/>
<path d="M549,523h7v5h2v8h-9z" fill="#fff"/>
<path d="M549,527h3v2h4v1h-5v-2h-2z" fill="#000"/>
<path d="M752,523h-8v4h-2v10h10z" fill="#000"/>
<path d="M752,523h-7v5h-2v8h9z" fill="#fff"/>
<path d="M752,527h-3v2h-4v1h5v-2h2z" fill="#000"/>
<rect x="556" y="527" width="1" height="3" fill="#000"/>
<rect x="744" y="527" width="1" height="3" fill="#000"/>
<rect x="563" y="524" width="175" height="14" fill="#000"/>
<rect x="566" y="531" width="4" height="6" fill="#fff"/>
<rect x="567" y="525" width="2" height="4" fill="#fff"/>
<rect x="572" y="531" width="4" height="6" fill="#fff"/>
<rect x="574" y="525" width="1" height="4" fill="#fff"/>
<rect x="578" y="531" width="4" height="6" fill="#fff"/>
<rect x="579" y="525" width="2" height="4" fill="#fff"/>
<rect x="584" y="531" width="4" height="6" fill="#fff"/>
<rect x="585" y="525" width="1" height="7" fill="#fff"/>
<rect x="585" y="537" width="1" height="1" fill="#fff"/>
<rect x="590" y="531" width="4" height="6" fill="#fff"/>
<rect x="591" y="525" width="2" height="4" fill="#fff"/>
<rect x="595" y="531" width="4" height="6" fill="#fff"/>
<rect x="597" y="525" width="1" height="4" fill="#fff"/>
<rect x="601" y="531" width="4" height="6" fill="#fff"/>
<rect x="602" y="525" width="1" height="7" fill="#fff"/>
<rect x="602" y="537" width="1" height="1" fill="#fff"/>
<rect x="607" y="531" width="4" height="6" fill="#fff"/>
<rect x="609" y="525" width="1" height="4" fill="#fff"/>
<rect x="613" y="531" width="4" height="6" fill="#fff"/>
<rect x="614" y="525" width="2" height="4" fill="#fff"/>
<rect x="619" y="531" width="4" height="6" fill="#fff"/>
<rect x="620" y="525" width="1" height="7" fill="#fff"/>
<rect x="620" y="537" width="1" height="1" fill="#fff"/>
<rect x="625" y="531" width="4" height="6" fill="#fff"/>
<rect x="626" y="525" width="2" height="4" fill="#fff"/>
<rect x="631" y="531" width="4" height="6" fill="#fff"/>
<rect x="633" y="525" width="1" height="4" fill="#fff"/>
<rect x="637" y="531" width="4" height="6" fill="#fff"/>
<rect x="638" y="525" width="1" height="7" fill="#fff"/>
<rect x="638" y="537" width="1" height="1" fill="#fff"/>
<rect x="643" y="531" width="4" height="6" fill="#fff"/>
<rect x="645" y="525" width="1" height="4" fill="#fff"/>
<rect x="648" y="531" width="4" height="6" fill="#fff"/>
<rect x="649" y="525" width="2" height="4" fill="#fff"/>
<rect x="654" y="531" width="4" height="6" fill="#fff"/>
<rect x="655" y="525" width="1" height="7" fill="#fff"/>
<rect x="655" y="537" width="1" height="1" fill="#fff"/>
<rect x="660" y="531" width="4" height="6" fill="#fff"/>
<rect x="661" y="525" width="2" height="4" fill="#fff"/>
<rect x="666" y="531" width="4" height="6" fill="#fff"/>
<rect x="668" y="525" width="1" height="4" fill="#fff"/>
<rect x="672" y="531" width="4" height="6" fill="#fff"/>
<rect x="673" y="525" width="1" height="7" fill="#fff"/>
<rect x="673" y="537" width="1" height="1" fill="#fff"/>
<rect x="678" y="531" width="4" height="6" fill="#fff"/>
<rect x="680" y="525" width="1" height="4" fill="#fff"/>
<rect x="684" y="531" width="4" height="6" fill="#fff"/>
<rect x="685" y="525" width="2" height="4" fill="#fff"/>
<rect x="690" y="531" width="4" height="6" fill="#fff"/>
<rect x="691" y="525" width="1" height="7" fill="#fff"/>
<rect x="691" y="537" width="1" height="1" fill="#fff"/>
<rect x="696" y="531" width="4" height="6" fill="#fff"/>
<rect x="697" y="525" width="2" height="4" fill="#fff"/>
<rect x="702" y="531" width="4" height="6" fill="#fff"/>
<rect x="704" y="525" width="1" height="4" fill="#fff"/>
<rect x="707" y="531" width="4" height="6" fill="#fff"/>
<rect x="708" y="525" width="1" height="7" fill="#fff"/>
<rect x="708" y="537" width="1" height="1" fill="#fff"/>
<rect x="713" y="531" width="4" height="6" fill="#fff"/>
<rect x="715" y="525" width="1" height="4" fill="#fff"/>
<rect x="719" y="531" width="4" height="6" fill="#fff"/>
<rect x="720" y="525" width="2" height="4" fill="#fff"/>
<rect x="725" y="531" width="4" height="6" fill="#fff"/>
<rect x="726" y="525" width="1" height="7" fill="#fff"/>
<rect x="726" y="537" width="1" height="1" fill="#fff"/>
<rect x="731" y="531" width="4" height="6" fill="#fff"/>
<rect x="732" y="525" width="2" height="4" fill="#fff"/>
<path d="M625,411H677A4.5,4.5 0 0 1 681.5,415.5V426A4.5,4.5 0 0 1 677,430.5H625A4.5,4.5 0 0 1 620.5,426V415.5A4.5,4.5 0 0 1 625,411Z" fill="none" stroke="#fff" stroke-width="1" stroke-dasharray="3 2.6"/>
<path d="M625,411.5H677A4,4 0 0 1 681,415.5V426A4,4 0 0 1 677,430H625A4,4 0 0 1 621,426V415.5A4,4 0 0 1 625,411.5Z" fill="#000"/>
<path d="M626.3,413.5H676.7A2.3,2.3 0 0 1 679,415.8V425.7A2.3,2.3 0 0 1 676.7,428H626.3A2.3,2.3 0 0 1 624,425.7V415.8A2.3,2.3 0 0 1 626.3,413.5Z" fill="#fff"/>
<text filter="url(#th)" transform="translate(627.57,425) scale(0.7,1)" font-size="14.5" letter-spacing="3.09" fill="#000">BANK 1</text>
<path d="M625,491.5H677A4.5,4.5 0 0 1 681.5,496V506A4.5,4.5 0 0 1 677,510.5H625A4.5,4.5 0 0 1 620.5,506V496A4.5,4.5 0 0 1 625,491.5Z" fill="none" stroke="#fff" stroke-width="1" stroke-dasharray="3 2.6"/>
<path d="M625,492H677A4,4 0 0 1 681,496V506A4,4 0 0 1 677,510H625A4,4 0 0 1 621,506V496A4,4 0 0 1 625,492Z" fill="#000"/>
<path d="M626.3,494H676.7A2.3,2.3 0 0 1 679,496.3V505.7A2.3,2.3 0 0 1 676.7,508H626.3A2.3,2.3 0 0 1 624,505.7V496.3A2.3,2.3 0 0 1 626.3,494Z" fill="#fff"/>
<text filter="url(#th)" transform="translate(627.07,506) scale(0.7,1)" font-size="14.5" letter-spacing="3.12" fill="#000">BANK 0</text>
<path d="M478,564H535V565H538V567H541V623H538V629H481V627H478V626H475V570H478Z" fill="#000"/>
<rect x="489" y="564" width="1" height="2" fill="#fff"/>
<rect x="492" y="564" width="1" height="2" fill="#fff"/>
<rect x="494" y="564" width="1" height="2" fill="#fff"/>
<rect x="506" y="564" width="1" height="2" fill="#fff"/>
<rect x="509" y="564" width="1" height="2" fill="#fff"/>
<rect x="511" y="564" width="1" height="2" fill="#fff"/>
<rect x="523" y="564" width="1" height="2" fill="#fff"/>
<rect x="526" y="564" width="1" height="2" fill="#fff"/>
<rect x="528" y="564" width="1" height="2" fill="#fff"/>
<rect x="482" y="627" width="1" height="2" fill="#fff"/>
<rect x="494" y="627" width="1" height="2" fill="#fff"/>
<rect x="497" y="627" width="1" height="2" fill="#fff"/>
<rect x="500" y="627" width="1" height="2" fill="#fff"/>
<rect x="511" y="627" width="1" height="2" fill="#fff"/>
<rect x="514" y="627" width="1" height="2" fill="#fff"/>
<rect x="517" y="627" width="1" height="2" fill="#fff"/>
<rect x="528" y="627" width="1" height="2" fill="#fff"/>
<rect x="531" y="627" width="1" height="2" fill="#fff"/>
<rect x="534" y="627" width="1" height="2" fill="#fff"/>
<rect x="475" y="580" width="3" height="1" fill="#fff"/>
<rect x="475" y="583" width="3" height="1" fill="#fff"/>
<rect x="475" y="586" width="3" height="1" fill="#fff"/>
<rect x="475" y="600" width="3" height="1" fill="#fff"/>
<rect x="475" y="603" width="3" height="1" fill="#fff"/>
<rect x="475" y="606" width="3" height="1" fill="#fff"/>
<rect x="475" y="617" width="3" height="1" fill="#fff"/>
<rect x="475" y="620" width="3" height="1" fill="#fff"/>
<rect x="475" y="623" width="3" height="1" fill="#fff"/>
<rect x="538" y="572" width="3" height="1" fill="#fff"/>
<rect x="538" y="575" width="3" height="1" fill="#fff"/>
<rect x="538" y="578" width="3" height="1" fill="#fff"/>
<rect x="538" y="590" width="3" height="1" fill="#fff"/>
<rect x="538" y="593" width="3" height="1" fill="#fff"/>
<rect x="538" y="596" width="3" height="1" fill="#fff"/>
<rect x="538" y="606" width="3" height="1" fill="#fff"/>
<rect x="538" y="609" width="3" height="1" fill="#fff"/>
<rect x="538" y="612" width="3" height="1" fill="#fff"/>
<path d="M699,552H756V553H759V555H762V612H759V618H702V616H699V615H696V558H699Z" fill="#000"/>
<rect x="705" y="552" width="1" height="2" fill="#fff"/>
<rect x="707" y="552" width="1" height="2" fill="#fff"/>
<rect x="720" y="552" width="1" height="2" fill="#fff"/>
<rect x="722" y="552" width="1" height="2" fill="#fff"/>
<rect x="725" y="552" width="1" height="2" fill="#fff"/>
<rect x="737" y="552" width="1" height="2" fill="#fff"/>
<rect x="739" y="552" width="1" height="2" fill="#fff"/>
<rect x="742" y="552" width="1" height="2" fill="#fff"/>
<rect x="754" y="552" width="1" height="2" fill="#fff"/>
<rect x="707" y="616" width="1" height="2" fill="#fff"/>
<rect x="710" y="616" width="1" height="2" fill="#fff"/>
<rect x="712" y="616" width="1" height="2" fill="#fff"/>
<rect x="724" y="616" width="1" height="2" fill="#fff"/>
<rect x="727" y="616" width="1" height="2" fill="#fff"/>
<rect x="730" y="616" width="1" height="2" fill="#fff"/>
<rect x="741" y="616" width="1" height="2" fill="#fff"/>
<rect x="744" y="616" width="1" height="2" fill="#fff"/>
<rect x="746" y="616" width="1" height="2" fill="#fff"/>
<rect x="696" y="558" width="3" height="1" fill="#fff"/>
<rect x="696" y="561" width="3" height="1" fill="#fff"/>
<rect x="696" y="564" width="3" height="1" fill="#fff"/>
<rect x="696" y="577" width="3" height="1" fill="#fff"/>
<rect x="696" y="580" width="3" height="1" fill="#fff"/>
<rect x="696" y="583" width="3" height="1" fill="#fff"/>
<rect x="696" y="594" width="3" height="1" fill="#fff"/>
<rect x="696" y="597" width="3" height="1" fill="#fff"/>
<rect x="696" y="600" width="3" height="1" fill="#fff"/>
<rect x="759" y="569" width="3" height="1" fill="#fff"/>
<rect x="759" y="572" width="3" height="1" fill="#fff"/>
<rect x="759" y="584" width="3" height="1" fill="#fff"/>
<rect x="759" y="587" width="3" height="1" fill="#fff"/>
<rect x="759" y="590" width="3" height="1" fill="#fff"/>
<rect x="759" y="593" width="3" height="1" fill="#fff"/>
<rect x="759" y="603" width="3" height="1" fill="#fff"/>
<rect x="759" y="606" width="3" height="1" fill="#fff"/>
<rect x="759" y="609" width="3" height="1" fill="#fff"/>
<rect x="759" y="612" width="3" height="1" fill="#fff"/>
<rect x="551" y="623" width="127" height="43" fill="#000"/>
<path d="M554,625.5H676" stroke="#fff" stroke-width="1" stroke-dasharray="3.5 2.5" fill="none"/>
<path d="M603,638H625A3,3 0 0 1 628,641V649A3,3 0 0 1 625,652H603A3,3 0 0 1 600,649V641A3,3 0 0 1 603,638Z" fill="#fff"/>
<text filter="url(#th)" transform="translate(600.47,649.5) scale(0.7,1)" font-size="14.5" letter-spacing="3.82" fill="#000">KBD</text>
<rect x="696" y="626" width="77" height="39" fill="#000"/>
<text filter="url(#th)" transform="translate(702.18,644) scale(0.66,1)" font-size="14" letter-spacing="2.82" fill="#fff" font-weight="bold" stroke="#fff" stroke-width="0.5">REAL TIME</text>
<text filter="url(#th)" transform="translate(714.62,657) scale(0.66,1)" font-size="14" letter-spacing="2.54" fill="#fff" font-weight="bold" stroke="#fff" stroke-width="0.5">CLOCK</text>
</svg>
</body>
</html>
